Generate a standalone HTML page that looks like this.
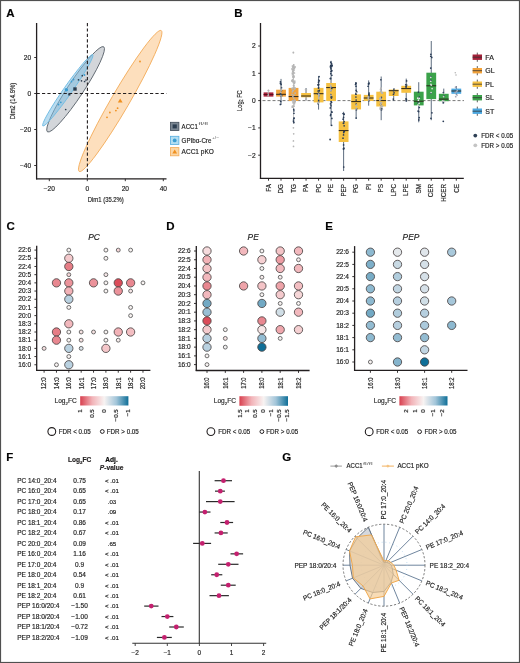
<!DOCTYPE html>
<html><head><meta charset="utf-8"><style>
html,body{margin:0;padding:0;background:#fff;}
svg{display:block;font-family:"Liberation Sans",sans-serif;will-change:transform;}
text{stroke:#2a2a2a;stroke-width:0.18px;}
</style></head><body>
<svg width="520" height="663" viewBox="0 0 520 663">
<rect x="0" y="0" width="520" height="663" fill="#fff"/>
<text x="6.3" y="17.2" font-size="11.5" text-anchor="start" font-weight="bold" fill="#000">A</text>
<ellipse cx="120.2" cy="101" rx="81.5" ry="9" transform="rotate(-59.8 120.2 101)" fill="#fddfbd" stroke="#f3aa55" stroke-width="0.8"/>
<ellipse cx="75.6" cy="89.3" rx="51" ry="7.8" transform="rotate(-56.5 75.6 89.3)" fill="#d3d6da" stroke="#525b64" stroke-width="0.8"/>
<ellipse cx="67.8" cy="90.3" rx="43.5" ry="4.2" transform="rotate(-55 67.8 90.3)" fill="#7fc0e4" fill-opacity="0.55" stroke="#74bde4" stroke-width="0.9"/>
<line x1="87.4" y1="23" x2="87.4" y2="178.8" stroke="#231f20" stroke-width="1.1" stroke-dasharray="3.2,2.2"/>
<line x1="36.6" y1="93.5" x2="166.5" y2="93.5" stroke="#231f20" stroke-width="1.1" stroke-dasharray="3.2,2.2"/>
<line x1="36.6" y1="23" x2="36.6" y2="179.4" stroke="#231f20" stroke-width="1.3"/>
<line x1="36" y1="178.8" x2="166.5" y2="178.8" stroke="#231f20" stroke-width="1.3"/>
<line x1="34.2" y1="57.5" x2="36.6" y2="57.5" stroke="#231f20" stroke-width="0.9"/>
<text x="31.2" y="59.8" font-size="6.6" text-anchor="end" fill="#222">20</text>
<line x1="34.2" y1="93.5" x2="36.6" y2="93.5" stroke="#231f20" stroke-width="0.9"/>
<text x="31.2" y="95.8" font-size="6.6" text-anchor="end" fill="#222">0</text>
<line x1="34.2" y1="129.5" x2="36.6" y2="129.5" stroke="#231f20" stroke-width="0.9"/>
<text x="31.2" y="131.8" font-size="6.6" text-anchor="end" fill="#222">−20</text>
<line x1="34.2" y1="165.5" x2="36.6" y2="165.5" stroke="#231f20" stroke-width="0.9"/>
<text x="31.2" y="167.8" font-size="6.6" text-anchor="end" fill="#222">−40</text>
<line x1="49.3" y1="178.8" x2="49.3" y2="181.2" stroke="#231f20" stroke-width="0.9"/>
<text x="49.3" y="190.8" font-size="6.6" text-anchor="middle" fill="#222">−20</text>
<line x1="87.3" y1="178.8" x2="87.3" y2="181.2" stroke="#231f20" stroke-width="0.9"/>
<text x="87.3" y="190.8" font-size="6.6" text-anchor="middle" fill="#222">0</text>
<line x1="125.3" y1="178.8" x2="125.3" y2="181.2" stroke="#231f20" stroke-width="0.9"/>
<text x="125.3" y="190.8" font-size="6.6" text-anchor="middle" fill="#222">20</text>
<line x1="163.3" y1="178.8" x2="163.3" y2="181.2" stroke="#231f20" stroke-width="0.9"/>
<text x="163.3" y="190.8" font-size="6.6" text-anchor="middle" fill="#222">40</text>
<text x="105.8" y="202.3" font-size="7.4" text-anchor="middle" fill="#222" textLength="36" lengthAdjust="spacingAndGlyphs">Dim1 (35.2%)</text>
<text x="14.6" y="101" font-size="7.4" text-anchor="middle" fill="#222" textLength="36.5" lengthAdjust="spacingAndGlyphs" transform="rotate(-90 14.6 101)">Dim2 (14.9%)</text>
<circle cx="65.7" cy="109.5" r="0.85" fill="#2c3e50" stroke="none" stroke-width="0"/>
<circle cx="82.3" cy="75.7" r="0.85" fill="#2c3e50" stroke="none" stroke-width="0"/>
<circle cx="81.5" cy="80.8" r="0.85" fill="#2c3e50" stroke="none" stroke-width="0"/>
<circle cx="84.6" cy="81.5" r="0.85" fill="#2c3e50" stroke="none" stroke-width="0"/>
<circle cx="86" cy="80" r="0.85" fill="#2c3e50" stroke="none" stroke-width="0"/>
<circle cx="78.5" cy="79.8" r="0.85" fill="#2c3e50" stroke="none" stroke-width="0"/>
<rect x="73.3" y="87.3" width="3.4" height="3.4" fill="#2c3e50" stroke="none" stroke-width="0"/>
<rect x="68.2" y="93.3" width="2.2" height="2.2" fill="#2c3e50" stroke="none" stroke-width="0"/>
<circle cx="66.9" cy="90" r="0.9" fill="#3b9dd2" stroke="none" stroke-width="0"/>
<circle cx="71.5" cy="81.5" r="0.9" fill="#3b9dd2" stroke="none" stroke-width="0"/>
<circle cx="60.8" cy="102.3" r="0.9" fill="#3b9dd2" stroke="none" stroke-width="0"/>
<circle cx="58.5" cy="104.5" r="0.9" fill="#3b9dd2" stroke="none" stroke-width="0"/>
<circle cx="73.5" cy="79.5" r="0.9" fill="#3b9dd2" stroke="none" stroke-width="0"/>
<circle cx="84.5" cy="75" r="0.9" fill="#3b9dd2" stroke="none" stroke-width="0"/>
<circle cx="66.3" cy="89.8" r="1.7" fill="#3b9dd2" stroke="none" stroke-width="0"/>
<circle cx="140" cy="61.5" r="0.9" fill="#f0901f" stroke="none" stroke-width="0"/>
<circle cx="109.9" cy="112.5" r="0.9" fill="#f0901f" stroke="none" stroke-width="0"/>
<circle cx="107" cy="117.3" r="0.9" fill="#f0901f" stroke="none" stroke-width="0"/>
<circle cx="115.9" cy="110.6" r="0.9" fill="#f0901f" stroke="none" stroke-width="0"/>
<circle cx="117.6" cy="108.2" r="0.9" fill="#f0901f" stroke="none" stroke-width="0"/>
<path d="M120.2 98.6 L122.6 102.6 L117.8 102.6 Z" fill="#f0901f"/>
<rect x="170.5" y="122.3" width="8.4" height="8.2" fill="#7b8793" stroke="#3f4b57" stroke-width="0.8"/>
<rect x="172.6" y="124.4" width="4.2" height="4" fill="#2c3e50" stroke="none" stroke-width="0"/>
<rect x="170.5" y="136.3" width="8.4" height="8.2" fill="#b3def2" stroke="#55ade0" stroke-width="0.8"/>
<circle cx="174.7" cy="140.4" r="1.9" fill="#3b9dd2" stroke="none" stroke-width="0"/>
<rect x="170.5" y="147.6" width="8.4" height="8.2" fill="#fcd6a4" stroke="#f3aa55" stroke-width="0.8"/>
<path d="M174.7 149.4 L177.1 153.6 L172.3 153.6 Z" fill="#f0901f"/>
<text x="181.6" y="128.6" font-size="6.8" text-anchor="start" fill="#222" textLength="16.2" lengthAdjust="spacingAndGlyphs">ACC1</text>
<text x="198.4" y="124.6" font-size="4" text-anchor="start" fill="#555" textLength="9.6" lengthAdjust="spacingAndGlyphs" style="stroke:none">f‌l/f‌l</text>
<text x="181.6" y="142.6" font-size="6.8" text-anchor="start" fill="#222" textLength="29.8" lengthAdjust="spacingAndGlyphs">GPIbα-Cre</text>
<text x="212" y="138.8" font-size="4" text-anchor="start" fill="#555" textLength="7" lengthAdjust="spacingAndGlyphs" style="stroke:none">+/−</text>
<text x="181.6" y="153.9" font-size="6.8" text-anchor="start" fill="#222" textLength="32.2" lengthAdjust="spacingAndGlyphs">ACC1 pKO</text>
<text x="234.3" y="17.2" font-size="11.5" text-anchor="start" font-weight="bold" fill="#000">B</text>
<line x1="260.5" y1="23" x2="260.5" y2="178.9" stroke="#231f20" stroke-width="1.3"/>
<line x1="259.9" y1="178.3" x2="463.8" y2="178.3" stroke="#231f20" stroke-width="1.3"/>
<line x1="258.2" y1="46" x2="260.5" y2="46" stroke="#231f20" stroke-width="0.9"/>
<text x="255.6" y="48.3" font-size="6.6" text-anchor="end" fill="#222">2</text>
<line x1="258.2" y1="73.3" x2="260.5" y2="73.3" stroke="#231f20" stroke-width="0.9"/>
<text x="255.6" y="75.6" font-size="6.6" text-anchor="end" fill="#222">1</text>
<line x1="258.2" y1="100.6" x2="260.5" y2="100.6" stroke="#231f20" stroke-width="0.9"/>
<text x="255.6" y="102.9" font-size="6.6" text-anchor="end" fill="#222">0</text>
<line x1="258.2" y1="127.9" x2="260.5" y2="127.9" stroke="#231f20" stroke-width="0.9"/>
<text x="255.6" y="130.2" font-size="6.6" text-anchor="end" fill="#222">−1</text>
<line x1="258.2" y1="155.2" x2="260.5" y2="155.2" stroke="#231f20" stroke-width="0.9"/>
<text x="255.6" y="157.5" font-size="6.6" text-anchor="end" fill="#222">−2</text>
<g transform="translate(241.8 100.6) rotate(-90) scale(0.79 1)"><text x="0" y="0" font-size="7.2" text-anchor="middle" fill="#222">Log<tspan font-size="4.6" dy="1.6">2</tspan><tspan dy="-1.6"> FC</tspan></text></g>
<line x1="268.5" y1="178.3" x2="268.5" y2="180.7" stroke="#231f20" stroke-width="0.9"/>
<text x="270.7" y="184" font-size="6.3" text-anchor="end" fill="#222" transform="rotate(-90 270.7 184)">FA</text>
<line x1="281.02" y1="178.3" x2="281.02" y2="180.7" stroke="#231f20" stroke-width="0.9"/>
<text x="283.22" y="184" font-size="6.3" text-anchor="end" fill="#222" transform="rotate(-90 283.22 184)">DG</text>
<line x1="293.54" y1="178.3" x2="293.54" y2="180.7" stroke="#231f20" stroke-width="0.9"/>
<text x="295.74" y="184" font-size="6.3" text-anchor="end" fill="#222" transform="rotate(-90 295.74 184)">TG</text>
<line x1="306.06" y1="178.3" x2="306.06" y2="180.7" stroke="#231f20" stroke-width="0.9"/>
<text x="308.26" y="184" font-size="6.3" text-anchor="end" fill="#222" transform="rotate(-90 308.26 184)">PA</text>
<line x1="318.58" y1="178.3" x2="318.58" y2="180.7" stroke="#231f20" stroke-width="0.9"/>
<text x="320.78" y="184" font-size="6.3" text-anchor="end" fill="#222" transform="rotate(-90 320.78 184)">PC</text>
<line x1="331.1" y1="178.3" x2="331.1" y2="180.7" stroke="#231f20" stroke-width="0.9"/>
<text x="333.3" y="184" font-size="6.3" text-anchor="end" fill="#222" transform="rotate(-90 333.3 184)">PE</text>
<line x1="343.62" y1="178.3" x2="343.62" y2="180.7" stroke="#231f20" stroke-width="0.9"/>
<text x="345.82" y="184" font-size="6.3" text-anchor="end" fill="#222" transform="rotate(-90 345.82 184)">PEP</text>
<line x1="356.14" y1="178.3" x2="356.14" y2="180.7" stroke="#231f20" stroke-width="0.9"/>
<text x="358.34" y="184" font-size="6.3" text-anchor="end" fill="#222" transform="rotate(-90 358.34 184)">PG</text>
<line x1="368.66" y1="178.3" x2="368.66" y2="180.7" stroke="#231f20" stroke-width="0.9"/>
<text x="370.86" y="184" font-size="6.3" text-anchor="end" fill="#222" transform="rotate(-90 370.86 184)">PI</text>
<line x1="381.18" y1="178.3" x2="381.18" y2="180.7" stroke="#231f20" stroke-width="0.9"/>
<text x="383.38" y="184" font-size="6.3" text-anchor="end" fill="#222" transform="rotate(-90 383.38 184)">PS</text>
<line x1="393.7" y1="178.3" x2="393.7" y2="180.7" stroke="#231f20" stroke-width="0.9"/>
<text x="395.9" y="184" font-size="6.3" text-anchor="end" fill="#222" transform="rotate(-90 395.9 184)">LPC</text>
<line x1="406.22" y1="178.3" x2="406.22" y2="180.7" stroke="#231f20" stroke-width="0.9"/>
<text x="408.42" y="184" font-size="6.3" text-anchor="end" fill="#222" transform="rotate(-90 408.42 184)">LPE</text>
<line x1="418.74" y1="178.3" x2="418.74" y2="180.7" stroke="#231f20" stroke-width="0.9"/>
<text x="420.94" y="184" font-size="6.3" text-anchor="end" fill="#222" transform="rotate(-90 420.94 184)">SM</text>
<line x1="431.26" y1="178.3" x2="431.26" y2="180.7" stroke="#231f20" stroke-width="0.9"/>
<text x="433.46" y="184" font-size="6.3" text-anchor="end" fill="#222" transform="rotate(-90 433.46 184)">CER</text>
<line x1="443.78" y1="178.3" x2="443.78" y2="180.7" stroke="#231f20" stroke-width="0.9"/>
<text x="445.98" y="184" font-size="6.3" text-anchor="end" fill="#222" transform="rotate(-90 445.98 184)">HCER</text>
<line x1="456.3" y1="178.3" x2="456.3" y2="180.7" stroke="#231f20" stroke-width="0.9"/>
<text x="458.5" y="184" font-size="6.3" text-anchor="end" fill="#222" transform="rotate(-90 458.5 184)">CE</text>
<line x1="262.5" y1="100.6" x2="464" y2="100.6" stroke="#555" stroke-width="0.8" stroke-dasharray="3,2"/>
<rect x="263.6" y="92.4" width="9.8" height="4.2" fill="#a52038" stroke="none" stroke-width="0"/>
<line x1="263.6" y1="94.5" x2="273.4" y2="94.5" stroke="#5a0f1c" stroke-width="1"/>
<line x1="281.02" y1="78.9" x2="281.02" y2="105" stroke="#34465e" stroke-width="0.8"/>
<rect x="276.12" y="89.7" width="9.8" height="6.9" fill="#f2a23a" stroke="none" stroke-width="0"/>
<line x1="276.12" y1="94.3" x2="285.92" y2="94.3" stroke="#2a2418" stroke-width="1"/>
<line x1="293.54" y1="64" x2="293.54" y2="124" stroke="#b5b5b5" stroke-width="0.8"/>
<rect x="288.64" y="87.9" width="9.8" height="13.1" fill="#f2a23a" stroke="none" stroke-width="0"/>
<line x1="288.64" y1="96.6" x2="298.44" y2="96.6" stroke="#2a2418" stroke-width="1"/>
<line x1="306.06" y1="88" x2="306.06" y2="100" stroke="#34465e" stroke-width="0.8"/>
<rect x="301.16" y="93" width="9.8" height="4.3" fill="#f6c142" stroke="none" stroke-width="0"/>
<line x1="301.16" y1="96" x2="310.96" y2="96" stroke="#2a2418" stroke-width="1"/>
<line x1="318.58" y1="76.2" x2="318.58" y2="109.6" stroke="#34465e" stroke-width="0.8"/>
<rect x="313.68" y="87.9" width="9.8" height="14.5" fill="#f6c142" stroke="none" stroke-width="0"/>
<line x1="313.68" y1="93.7" x2="323.48" y2="93.7" stroke="#2a2418" stroke-width="1"/>
<line x1="331.1" y1="60.8" x2="331.1" y2="126" stroke="#34465e" stroke-width="0.8"/>
<rect x="326.2" y="83" width="9.8" height="18" fill="#f6c142" stroke="none" stroke-width="0"/>
<line x1="326.2" y1="87.6" x2="336" y2="87.6" stroke="#2a2418" stroke-width="1"/>
<line x1="343.62" y1="111.8" x2="343.62" y2="171" stroke="#34465e" stroke-width="0.8"/>
<rect x="338.72" y="121.4" width="9.8" height="20.6" fill="#f6c142" stroke="none" stroke-width="0"/>
<line x1="338.72" y1="130.6" x2="348.52" y2="130.6" stroke="#2a2418" stroke-width="1"/>
<line x1="356.14" y1="82.8" x2="356.14" y2="119" stroke="#34465e" stroke-width="0.8"/>
<rect x="351.24" y="94.4" width="9.8" height="15" fill="#f6c142" stroke="none" stroke-width="0"/>
<line x1="351.24" y1="101.6" x2="361.04" y2="101.6" stroke="#2a2418" stroke-width="1"/>
<line x1="368.66" y1="80.4" x2="368.66" y2="105.7" stroke="#34465e" stroke-width="0.8"/>
<rect x="363.76" y="94.9" width="9.8" height="6.1" fill="#f6c142" stroke="none" stroke-width="0"/>
<line x1="363.76" y1="98" x2="373.56" y2="98" stroke="#2a2418" stroke-width="1"/>
<line x1="381.18" y1="76.5" x2="381.18" y2="120.2" stroke="#34465e" stroke-width="0.8"/>
<rect x="376.28" y="91.7" width="9.8" height="14.8" fill="#f6c142" stroke="none" stroke-width="0"/>
<line x1="376.28" y1="100.6" x2="386.08" y2="100.6" stroke="#2a2418" stroke-width="1"/>
<line x1="393.7" y1="89" x2="393.7" y2="101" stroke="#34465e" stroke-width="0.8"/>
<rect x="388.8" y="89.6" width="9.8" height="6.4" fill="#f6c142" stroke="none" stroke-width="0"/>
<line x1="388.8" y1="90.7" x2="398.6" y2="90.7" stroke="#2a2418" stroke-width="1"/>
<line x1="406.22" y1="78.6" x2="406.22" y2="101.2" stroke="#34465e" stroke-width="0.8"/>
<rect x="401.32" y="85.8" width="9.8" height="7" fill="#f6c142" stroke="none" stroke-width="0"/>
<line x1="401.32" y1="88.6" x2="411.12" y2="88.6" stroke="#2a2418" stroke-width="1"/>
<line x1="418.74" y1="82.2" x2="418.74" y2="122.3" stroke="#34465e" stroke-width="0.8"/>
<rect x="413.84" y="91.7" width="9.8" height="13.7" fill="#3ba24a" stroke="none" stroke-width="0"/>
<line x1="413.84" y1="101.2" x2="423.64" y2="101.2" stroke="#2a2418" stroke-width="1"/>
<line x1="431.26" y1="41" x2="431.26" y2="120.2" stroke="#34465e" stroke-width="0.8"/>
<rect x="426.36" y="72.7" width="9.8" height="26.4" fill="#3ba24a" stroke="none" stroke-width="0"/>
<line x1="426.36" y1="85.8" x2="436.16" y2="85.8" stroke="#2a2418" stroke-width="1"/>
<line x1="443.78" y1="88.6" x2="443.78" y2="103.3" stroke="#34465e" stroke-width="0.8"/>
<rect x="438.88" y="93.8" width="9.8" height="7.4" fill="#3ba24a" stroke="none" stroke-width="0"/>
<line x1="438.88" y1="99.1" x2="448.68" y2="99.1" stroke="#2a2418" stroke-width="1"/>
<line x1="456.3" y1="86" x2="456.3" y2="95" stroke="#34465e" stroke-width="0.8"/>
<rect x="451.4" y="88.6" width="9.8" height="5.2" fill="#4ba7e0" stroke="none" stroke-width="0"/>
<line x1="451.4" y1="91" x2="461.2" y2="91" stroke="#2a2418" stroke-width="1"/>
<circle cx="268.15" cy="92.91" r="0.85" fill="#b5b5b5" stroke="none" stroke-width="0"/>
<circle cx="268.08" cy="95.86" r="0.85" fill="#b5b5b5" stroke="none" stroke-width="0"/>
<circle cx="268.37" cy="94.82" r="0.85" fill="#b5b5b5" stroke="none" stroke-width="0"/>
<circle cx="268.51" cy="90.52" r="0.85" fill="#b5b5b5" stroke="none" stroke-width="0"/>
<circle cx="268.43" cy="90.34" r="0.85" fill="#b5b5b5" stroke="none" stroke-width="0"/>
<circle cx="268.5" cy="91" r="0.8" fill="#b5b5b5" stroke="none" stroke-width="0"/>
<circle cx="280.43" cy="81.75" r="0.85" fill="#2b3d57" stroke="none" stroke-width="0"/>
<circle cx="281.49" cy="90.61" r="0.85" fill="#2b3d57" stroke="none" stroke-width="0"/>
<circle cx="280.62" cy="83.1" r="0.85" fill="#2b3d57" stroke="none" stroke-width="0"/>
<circle cx="281.66" cy="95.69" r="0.85" fill="#2b3d57" stroke="none" stroke-width="0"/>
<circle cx="280.87" cy="94.43" r="0.85" fill="#2b3d57" stroke="none" stroke-width="0"/>
<circle cx="280.37" cy="104.41" r="0.85" fill="#2b3d57" stroke="none" stroke-width="0"/>
<circle cx="280.72" cy="101.46" r="0.85" fill="#2b3d57" stroke="none" stroke-width="0"/>
<circle cx="280.47" cy="83.61" r="0.85" fill="#2b3d57" stroke="none" stroke-width="0"/>
<circle cx="281.47" cy="87.71" r="0.85" fill="#2b3d57" stroke="none" stroke-width="0"/>
<circle cx="281.14" cy="84.52" r="0.85" fill="#2b3d57" stroke="none" stroke-width="0"/>
<circle cx="280.84" cy="95.97" r="0.85" fill="#2b3d57" stroke="none" stroke-width="0"/>
<circle cx="280.39" cy="93.69" r="0.85" fill="#2b3d57" stroke="none" stroke-width="0"/>
<circle cx="280.73" cy="86.83" r="0.85" fill="#b5b5b5" stroke="none" stroke-width="0"/>
<circle cx="280.95" cy="95.53" r="0.85" fill="#b5b5b5" stroke="none" stroke-width="0"/>
<circle cx="281.1" cy="90.4" r="0.85" fill="#b5b5b5" stroke="none" stroke-width="0"/>
<circle cx="280.82" cy="92.34" r="0.85" fill="#b5b5b5" stroke="none" stroke-width="0"/>
<circle cx="281.22" cy="97.12" r="0.85" fill="#b5b5b5" stroke="none" stroke-width="0"/>
<circle cx="281.09" cy="89.42" r="0.85" fill="#b5b5b5" stroke="none" stroke-width="0"/>
<circle cx="294.78" cy="88.06" r="0.85" fill="#b5b5b5" stroke="none" stroke-width="0"/>
<circle cx="292.84" cy="96.64" r="0.85" fill="#b5b5b5" stroke="none" stroke-width="0"/>
<circle cx="292.28" cy="107.17" r="0.85" fill="#b5b5b5" stroke="none" stroke-width="0"/>
<circle cx="294.39" cy="83.56" r="0.85" fill="#b5b5b5" stroke="none" stroke-width="0"/>
<circle cx="293.5" cy="72.38" r="0.85" fill="#b5b5b5" stroke="none" stroke-width="0"/>
<circle cx="294.1" cy="67.65" r="0.85" fill="#b5b5b5" stroke="none" stroke-width="0"/>
<circle cx="293.78" cy="98.11" r="0.85" fill="#b5b5b5" stroke="none" stroke-width="0"/>
<circle cx="292.93" cy="102.77" r="0.85" fill="#b5b5b5" stroke="none" stroke-width="0"/>
<circle cx="293.85" cy="95.2" r="0.85" fill="#b5b5b5" stroke="none" stroke-width="0"/>
<circle cx="293.4" cy="90.36" r="0.85" fill="#b5b5b5" stroke="none" stroke-width="0"/>
<circle cx="295.01" cy="101.28" r="0.85" fill="#b5b5b5" stroke="none" stroke-width="0"/>
<circle cx="294.08" cy="85.91" r="0.85" fill="#b5b5b5" stroke="none" stroke-width="0"/>
<circle cx="294.2" cy="68.55" r="0.85" fill="#b5b5b5" stroke="none" stroke-width="0"/>
<circle cx="295.17" cy="93.18" r="0.85" fill="#b5b5b5" stroke="none" stroke-width="0"/>
<circle cx="292.83" cy="100.52" r="0.85" fill="#b5b5b5" stroke="none" stroke-width="0"/>
<circle cx="294.1" cy="82.2" r="0.85" fill="#b5b5b5" stroke="none" stroke-width="0"/>
<circle cx="293.41" cy="66.95" r="0.85" fill="#b5b5b5" stroke="none" stroke-width="0"/>
<circle cx="292.28" cy="73.06" r="0.85" fill="#b5b5b5" stroke="none" stroke-width="0"/>
<circle cx="294.43" cy="68.48" r="0.85" fill="#b5b5b5" stroke="none" stroke-width="0"/>
<circle cx="292.71" cy="71.43" r="0.85" fill="#b5b5b5" stroke="none" stroke-width="0"/>
<circle cx="294.77" cy="82.42" r="0.85" fill="#b5b5b5" stroke="none" stroke-width="0"/>
<circle cx="293.37" cy="69.38" r="0.85" fill="#b5b5b5" stroke="none" stroke-width="0"/>
<circle cx="294.81" cy="89.08" r="0.85" fill="#b5b5b5" stroke="none" stroke-width="0"/>
<circle cx="294.74" cy="100.41" r="0.85" fill="#b5b5b5" stroke="none" stroke-width="0"/>
<circle cx="293.26" cy="77.69" r="0.85" fill="#b5b5b5" stroke="none" stroke-width="0"/>
<circle cx="294.81" cy="81.07" r="0.85" fill="#b5b5b5" stroke="none" stroke-width="0"/>
<circle cx="292.39" cy="106.22" r="0.85" fill="#b5b5b5" stroke="none" stroke-width="0"/>
<circle cx="292.66" cy="73.4" r="0.85" fill="#b5b5b5" stroke="none" stroke-width="0"/>
<circle cx="293.49" cy="75.8" r="0.85" fill="#b5b5b5" stroke="none" stroke-width="0"/>
<circle cx="292.76" cy="90.74" r="0.85" fill="#b5b5b5" stroke="none" stroke-width="0"/>
<circle cx="293.27" cy="66.17" r="0.85" fill="#b5b5b5" stroke="none" stroke-width="0"/>
<circle cx="293.76" cy="81.51" r="0.85" fill="#b5b5b5" stroke="none" stroke-width="0"/>
<circle cx="294.17" cy="106.03" r="0.85" fill="#b5b5b5" stroke="none" stroke-width="0"/>
<circle cx="293.93" cy="87.65" r="0.85" fill="#b5b5b5" stroke="none" stroke-width="0"/>
<circle cx="292.07" cy="94.4" r="0.85" fill="#b5b5b5" stroke="none" stroke-width="0"/>
<circle cx="294.46" cy="103.78" r="0.85" fill="#b5b5b5" stroke="none" stroke-width="0"/>
<circle cx="294.52" cy="102.73" r="0.85" fill="#b5b5b5" stroke="none" stroke-width="0"/>
<circle cx="293.21" cy="82.48" r="0.85" fill="#b5b5b5" stroke="none" stroke-width="0"/>
<circle cx="293.98" cy="70.35" r="0.85" fill="#b5b5b5" stroke="none" stroke-width="0"/>
<circle cx="292.11" cy="68.61" r="0.85" fill="#b5b5b5" stroke="none" stroke-width="0"/>
<circle cx="292.43" cy="74.77" r="0.85" fill="#b5b5b5" stroke="none" stroke-width="0"/>
<circle cx="292.06" cy="80.28" r="0.85" fill="#b5b5b5" stroke="none" stroke-width="0"/>
<circle cx="292.39" cy="66.01" r="0.85" fill="#b5b5b5" stroke="none" stroke-width="0"/>
<circle cx="293.09" cy="70.26" r="0.85" fill="#b5b5b5" stroke="none" stroke-width="0"/>
<circle cx="294.78" cy="67.07" r="0.85" fill="#b5b5b5" stroke="none" stroke-width="0"/>
<circle cx="292.38" cy="91.79" r="0.85" fill="#b5b5b5" stroke="none" stroke-width="0"/>
<circle cx="293.04" cy="76.59" r="0.85" fill="#b5b5b5" stroke="none" stroke-width="0"/>
<circle cx="292.3" cy="81.29" r="0.85" fill="#b5b5b5" stroke="none" stroke-width="0"/>
<circle cx="295.17" cy="101.66" r="0.85" fill="#b5b5b5" stroke="none" stroke-width="0"/>
<circle cx="293.49" cy="85.57" r="0.85" fill="#b5b5b5" stroke="none" stroke-width="0"/>
<circle cx="292.23" cy="69.61" r="0.85" fill="#b5b5b5" stroke="none" stroke-width="0"/>
<circle cx="292.76" cy="80.39" r="0.85" fill="#b5b5b5" stroke="none" stroke-width="0"/>
<circle cx="292.42" cy="100.81" r="0.85" fill="#b5b5b5" stroke="none" stroke-width="0"/>
<circle cx="295.03" cy="66.97" r="0.85" fill="#b5b5b5" stroke="none" stroke-width="0"/>
<circle cx="292.37" cy="88.19" r="0.85" fill="#b5b5b5" stroke="none" stroke-width="0"/>
<circle cx="291.98" cy="88.81" r="0.85" fill="#b5b5b5" stroke="none" stroke-width="0"/>
<circle cx="295.12" cy="88.18" r="0.85" fill="#b5b5b5" stroke="none" stroke-width="0"/>
<circle cx="294.19" cy="102.26" r="0.85" fill="#b5b5b5" stroke="none" stroke-width="0"/>
<circle cx="293.1" cy="76.97" r="0.85" fill="#b5b5b5" stroke="none" stroke-width="0"/>
<circle cx="294.44" cy="73.02" r="0.85" fill="#b5b5b5" stroke="none" stroke-width="0"/>
<circle cx="294.46" cy="88.37" r="0.85" fill="#b5b5b5" stroke="none" stroke-width="0"/>
<circle cx="292.63" cy="79.85" r="0.85" fill="#b5b5b5" stroke="none" stroke-width="0"/>
<circle cx="295.14" cy="100.08" r="0.85" fill="#b5b5b5" stroke="none" stroke-width="0"/>
<circle cx="294.55" cy="101.81" r="0.85" fill="#b5b5b5" stroke="none" stroke-width="0"/>
<circle cx="294.33" cy="100.37" r="0.85" fill="#b5b5b5" stroke="none" stroke-width="0"/>
<circle cx="293.6" cy="75.52" r="0.85" fill="#b5b5b5" stroke="none" stroke-width="0"/>
<circle cx="291.99" cy="80.93" r="0.85" fill="#b5b5b5" stroke="none" stroke-width="0"/>
<circle cx="292.81" cy="67.17" r="0.85" fill="#b5b5b5" stroke="none" stroke-width="0"/>
<circle cx="294.18" cy="76.89" r="0.85" fill="#b5b5b5" stroke="none" stroke-width="0"/>
<circle cx="293.37" cy="106.17" r="0.85" fill="#b5b5b5" stroke="none" stroke-width="0"/>
<circle cx="293.81" cy="64.93" r="0.85" fill="#b5b5b5" stroke="none" stroke-width="0"/>
<circle cx="293.47" cy="65.24" r="0.85" fill="#b5b5b5" stroke="none" stroke-width="0"/>
<circle cx="293.39" cy="52.75" r="0.85" fill="#b5b5b5" stroke="none" stroke-width="0"/>
<circle cx="293.38" cy="52.34" r="0.85" fill="#b5b5b5" stroke="none" stroke-width="0"/>
<circle cx="294.07" cy="117.99" r="0.85" fill="#2b3d57" stroke="none" stroke-width="0"/>
<circle cx="293.51" cy="121.45" r="0.85" fill="#2b3d57" stroke="none" stroke-width="0"/>
<circle cx="293.94" cy="118.45" r="0.85" fill="#2b3d57" stroke="none" stroke-width="0"/>
<circle cx="293.75" cy="109.36" r="0.85" fill="#2b3d57" stroke="none" stroke-width="0"/>
<circle cx="293.91" cy="122.56" r="0.85" fill="#2b3d57" stroke="none" stroke-width="0"/>
<circle cx="293.51" cy="120" r="0.85" fill="#2b3d57" stroke="none" stroke-width="0"/>
<circle cx="293.92" cy="110.86" r="0.85" fill="#2b3d57" stroke="none" stroke-width="0"/>
<circle cx="293.94" cy="113.32" r="0.85" fill="#2b3d57" stroke="none" stroke-width="0"/>
<circle cx="293.51" cy="146.38" r="0.85" fill="#b5b5b5" stroke="none" stroke-width="0"/>
<circle cx="293.69" cy="133.83" r="0.85" fill="#b5b5b5" stroke="none" stroke-width="0"/>
<circle cx="293.43" cy="140.95" r="0.85" fill="#b5b5b5" stroke="none" stroke-width="0"/>
<circle cx="293.42" cy="127.79" r="0.85" fill="#b5b5b5" stroke="none" stroke-width="0"/>
<circle cx="306.36" cy="98.86" r="0.85" fill="#b5b5b5" stroke="none" stroke-width="0"/>
<circle cx="306.38" cy="89.75" r="0.85" fill="#b5b5b5" stroke="none" stroke-width="0"/>
<circle cx="306.22" cy="99.76" r="0.85" fill="#b5b5b5" stroke="none" stroke-width="0"/>
<circle cx="306.11" cy="92.2" r="0.85" fill="#b5b5b5" stroke="none" stroke-width="0"/>
<circle cx="305.58" cy="89.57" r="0.85" fill="#b5b5b5" stroke="none" stroke-width="0"/>
<circle cx="306.21" cy="99.65" r="0.85" fill="#b5b5b5" stroke="none" stroke-width="0"/>
<circle cx="319.3" cy="93.88" r="0.85" fill="#2b3d57" stroke="none" stroke-width="0"/>
<circle cx="319.19" cy="90.82" r="0.85" fill="#2b3d57" stroke="none" stroke-width="0"/>
<circle cx="318.1" cy="103.76" r="0.85" fill="#2b3d57" stroke="none" stroke-width="0"/>
<circle cx="318.24" cy="84.81" r="0.85" fill="#2b3d57" stroke="none" stroke-width="0"/>
<circle cx="318.72" cy="84.44" r="0.85" fill="#2b3d57" stroke="none" stroke-width="0"/>
<circle cx="318.45" cy="85.06" r="0.85" fill="#2b3d57" stroke="none" stroke-width="0"/>
<circle cx="319.26" cy="80.83" r="0.85" fill="#2b3d57" stroke="none" stroke-width="0"/>
<circle cx="318.51" cy="88.17" r="0.85" fill="#2b3d57" stroke="none" stroke-width="0"/>
<circle cx="319.25" cy="95.75" r="0.85" fill="#2b3d57" stroke="none" stroke-width="0"/>
<circle cx="319.27" cy="90.38" r="0.85" fill="#2b3d57" stroke="none" stroke-width="0"/>
<circle cx="318.63" cy="93.05" r="0.85" fill="#2b3d57" stroke="none" stroke-width="0"/>
<circle cx="317.79" cy="93.78" r="0.85" fill="#2b3d57" stroke="none" stroke-width="0"/>
<circle cx="318.06" cy="91.02" r="0.85" fill="#2b3d57" stroke="none" stroke-width="0"/>
<circle cx="319.07" cy="76.63" r="0.85" fill="#2b3d57" stroke="none" stroke-width="0"/>
<circle cx="318.54" cy="82.19" r="0.85" fill="#2b3d57" stroke="none" stroke-width="0"/>
<circle cx="318.67" cy="100.43" r="0.85" fill="#2b3d57" stroke="none" stroke-width="0"/>
<circle cx="318.61" cy="87.26" r="0.85" fill="#2b3d57" stroke="none" stroke-width="0"/>
<circle cx="319.05" cy="94.83" r="0.85" fill="#2b3d57" stroke="none" stroke-width="0"/>
<circle cx="318.68" cy="80" r="0.85" fill="#2b3d57" stroke="none" stroke-width="0"/>
<circle cx="318.21" cy="84.7" r="0.85" fill="#2b3d57" stroke="none" stroke-width="0"/>
<circle cx="318.59" cy="101.98" r="0.85" fill="#2b3d57" stroke="none" stroke-width="0"/>
<circle cx="319.01" cy="95.04" r="0.85" fill="#2b3d57" stroke="none" stroke-width="0"/>
<circle cx="318.52" cy="102.42" r="0.85" fill="#b5b5b5" stroke="none" stroke-width="0"/>
<circle cx="318.59" cy="97.03" r="0.85" fill="#b5b5b5" stroke="none" stroke-width="0"/>
<circle cx="318.77" cy="95.22" r="0.85" fill="#b5b5b5" stroke="none" stroke-width="0"/>
<circle cx="318.61" cy="94.14" r="0.85" fill="#b5b5b5" stroke="none" stroke-width="0"/>
<circle cx="319.02" cy="94.6" r="0.85" fill="#b5b5b5" stroke="none" stroke-width="0"/>
<circle cx="318.95" cy="98.59" r="0.85" fill="#b5b5b5" stroke="none" stroke-width="0"/>
<circle cx="318.34" cy="102.96" r="0.85" fill="#b5b5b5" stroke="none" stroke-width="0"/>
<circle cx="319.02" cy="96.07" r="0.85" fill="#b5b5b5" stroke="none" stroke-width="0"/>
<circle cx="330.5" cy="115.6" r="0.85" fill="#2b3d57" stroke="none" stroke-width="0"/>
<circle cx="331" cy="68.91" r="0.85" fill="#2b3d57" stroke="none" stroke-width="0"/>
<circle cx="330.67" cy="65.72" r="0.85" fill="#2b3d57" stroke="none" stroke-width="0"/>
<circle cx="331.38" cy="65.75" r="0.85" fill="#2b3d57" stroke="none" stroke-width="0"/>
<circle cx="331.76" cy="111.96" r="0.85" fill="#2b3d57" stroke="none" stroke-width="0"/>
<circle cx="331.46" cy="71.04" r="0.85" fill="#2b3d57" stroke="none" stroke-width="0"/>
<circle cx="330.51" cy="103.92" r="0.85" fill="#2b3d57" stroke="none" stroke-width="0"/>
<circle cx="331.87" cy="118.38" r="0.85" fill="#2b3d57" stroke="none" stroke-width="0"/>
<circle cx="331.85" cy="75.27" r="0.85" fill="#2b3d57" stroke="none" stroke-width="0"/>
<circle cx="331.08" cy="86.89" r="0.85" fill="#2b3d57" stroke="none" stroke-width="0"/>
<circle cx="331.65" cy="125.34" r="0.85" fill="#2b3d57" stroke="none" stroke-width="0"/>
<circle cx="330.99" cy="71.5" r="0.85" fill="#2b3d57" stroke="none" stroke-width="0"/>
<circle cx="330.83" cy="94.51" r="0.85" fill="#2b3d57" stroke="none" stroke-width="0"/>
<circle cx="330.8" cy="73.72" r="0.85" fill="#2b3d57" stroke="none" stroke-width="0"/>
<circle cx="330.31" cy="107.94" r="0.85" fill="#2b3d57" stroke="none" stroke-width="0"/>
<circle cx="331" cy="97.01" r="0.85" fill="#2b3d57" stroke="none" stroke-width="0"/>
<circle cx="330.82" cy="62.18" r="0.85" fill="#2b3d57" stroke="none" stroke-width="0"/>
<circle cx="331.12" cy="101.56" r="0.85" fill="#2b3d57" stroke="none" stroke-width="0"/>
<circle cx="331.9" cy="65.18" r="0.85" fill="#2b3d57" stroke="none" stroke-width="0"/>
<circle cx="331.88" cy="112.24" r="0.85" fill="#2b3d57" stroke="none" stroke-width="0"/>
<circle cx="330.71" cy="67.81" r="0.85" fill="#2b3d57" stroke="none" stroke-width="0"/>
<circle cx="331.56" cy="63.57" r="0.85" fill="#2b3d57" stroke="none" stroke-width="0"/>
<circle cx="330.49" cy="78.58" r="0.85" fill="#2b3d57" stroke="none" stroke-width="0"/>
<circle cx="331.78" cy="88.45" r="0.85" fill="#2b3d57" stroke="none" stroke-width="0"/>
<circle cx="330.7" cy="114.23" r="0.85" fill="#2b3d57" stroke="none" stroke-width="0"/>
<circle cx="331.79" cy="70.71" r="0.85" fill="#2b3d57" stroke="none" stroke-width="0"/>
<circle cx="331.43" cy="98.09" r="0.85" fill="#2b3d57" stroke="none" stroke-width="0"/>
<circle cx="330.37" cy="66.82" r="0.85" fill="#2b3d57" stroke="none" stroke-width="0"/>
<circle cx="330.98" cy="105.73" r="0.85" fill="#2b3d57" stroke="none" stroke-width="0"/>
<circle cx="331.82" cy="65.71" r="0.85" fill="#2b3d57" stroke="none" stroke-width="0"/>
<circle cx="331.6" cy="102.24" r="0.85" fill="#2b3d57" stroke="none" stroke-width="0"/>
<circle cx="331.69" cy="66.44" r="0.85" fill="#2b3d57" stroke="none" stroke-width="0"/>
<circle cx="331.7" cy="65.33" r="0.85" fill="#2b3d57" stroke="none" stroke-width="0"/>
<circle cx="330.83" cy="90.5" r="0.85" fill="#2b3d57" stroke="none" stroke-width="0"/>
<circle cx="331.8" cy="96.95" r="0.85" fill="#2b3d57" stroke="none" stroke-width="0"/>
<circle cx="330.49" cy="78.41" r="0.85" fill="#2b3d57" stroke="none" stroke-width="0"/>
<circle cx="330.84" cy="90.54" r="0.85" fill="#b5b5b5" stroke="none" stroke-width="0"/>
<circle cx="330.76" cy="82.19" r="0.85" fill="#b5b5b5" stroke="none" stroke-width="0"/>
<circle cx="330.8" cy="81.01" r="0.85" fill="#b5b5b5" stroke="none" stroke-width="0"/>
<circle cx="330.91" cy="86.24" r="0.85" fill="#b5b5b5" stroke="none" stroke-width="0"/>
<circle cx="330.89" cy="95.19" r="0.85" fill="#b5b5b5" stroke="none" stroke-width="0"/>
<circle cx="330.78" cy="90" r="0.85" fill="#b5b5b5" stroke="none" stroke-width="0"/>
<circle cx="330.62" cy="86.94" r="0.85" fill="#b5b5b5" stroke="none" stroke-width="0"/>
<circle cx="330.62" cy="85.01" r="0.85" fill="#b5b5b5" stroke="none" stroke-width="0"/>
<circle cx="330.1" cy="139.5" r="0.9" fill="#2b3d57" stroke="none" stroke-width="0"/>
<circle cx="343.7" cy="132.53" r="0.85" fill="#2b3d57" stroke="none" stroke-width="0"/>
<circle cx="343.58" cy="117.3" r="0.85" fill="#2b3d57" stroke="none" stroke-width="0"/>
<circle cx="343.01" cy="138.17" r="0.85" fill="#2b3d57" stroke="none" stroke-width="0"/>
<circle cx="343.52" cy="134.93" r="0.85" fill="#2b3d57" stroke="none" stroke-width="0"/>
<circle cx="344.14" cy="125.86" r="0.85" fill="#2b3d57" stroke="none" stroke-width="0"/>
<circle cx="343.63" cy="123.01" r="0.85" fill="#2b3d57" stroke="none" stroke-width="0"/>
<circle cx="344.36" cy="131.26" r="0.85" fill="#2b3d57" stroke="none" stroke-width="0"/>
<circle cx="344.13" cy="121.6" r="0.85" fill="#2b3d57" stroke="none" stroke-width="0"/>
<circle cx="343.83" cy="131.79" r="0.85" fill="#2b3d57" stroke="none" stroke-width="0"/>
<circle cx="343.39" cy="123.33" r="0.85" fill="#2b3d57" stroke="none" stroke-width="0"/>
<circle cx="343.05" cy="113.52" r="0.85" fill="#2b3d57" stroke="none" stroke-width="0"/>
<circle cx="343.99" cy="113.98" r="0.85" fill="#2b3d57" stroke="none" stroke-width="0"/>
<circle cx="343.1" cy="119.16" r="0.85" fill="#2b3d57" stroke="none" stroke-width="0"/>
<circle cx="344.15" cy="114.37" r="0.85" fill="#2b3d57" stroke="none" stroke-width="0"/>
<circle cx="343.73" cy="166.99" r="0.85" fill="#2b3d57" stroke="none" stroke-width="0"/>
<circle cx="343.45" cy="148.74" r="0.85" fill="#2b3d57" stroke="none" stroke-width="0"/>
<circle cx="343.59" cy="149.08" r="0.85" fill="#2b3d57" stroke="none" stroke-width="0"/>
<circle cx="343.58" cy="144.88" r="0.85" fill="#2b3d57" stroke="none" stroke-width="0"/>
<circle cx="343.92" cy="148.16" r="0.85" fill="#2b3d57" stroke="none" stroke-width="0"/>
<circle cx="356.2" cy="118.01" r="0.85" fill="#2b3d57" stroke="none" stroke-width="0"/>
<circle cx="356.75" cy="91.8" r="0.85" fill="#2b3d57" stroke="none" stroke-width="0"/>
<circle cx="355.95" cy="94.14" r="0.85" fill="#2b3d57" stroke="none" stroke-width="0"/>
<circle cx="355.98" cy="83.04" r="0.85" fill="#2b3d57" stroke="none" stroke-width="0"/>
<circle cx="356.14" cy="100.09" r="0.85" fill="#2b3d57" stroke="none" stroke-width="0"/>
<circle cx="356.15" cy="90.24" r="0.85" fill="#2b3d57" stroke="none" stroke-width="0"/>
<circle cx="355.83" cy="83.18" r="0.85" fill="#2b3d57" stroke="none" stroke-width="0"/>
<circle cx="356.01" cy="86.23" r="0.85" fill="#2b3d57" stroke="none" stroke-width="0"/>
<circle cx="355.51" cy="84.5" r="0.85" fill="#2b3d57" stroke="none" stroke-width="0"/>
<circle cx="355.79" cy="93.95" r="0.85" fill="#2b3d57" stroke="none" stroke-width="0"/>
<circle cx="356.18" cy="104.08" r="0.85" fill="#2b3d57" stroke="none" stroke-width="0"/>
<circle cx="356.35" cy="110.02" r="0.85" fill="#2b3d57" stroke="none" stroke-width="0"/>
<circle cx="356.64" cy="108.78" r="0.85" fill="#2b3d57" stroke="none" stroke-width="0"/>
<circle cx="355.91" cy="97.02" r="0.85" fill="#2b3d57" stroke="none" stroke-width="0"/>
<circle cx="355.79" cy="109.73" r="0.85" fill="#b5b5b5" stroke="none" stroke-width="0"/>
<circle cx="356.28" cy="105.03" r="0.85" fill="#b5b5b5" stroke="none" stroke-width="0"/>
<circle cx="356.47" cy="92.79" r="0.85" fill="#b5b5b5" stroke="none" stroke-width="0"/>
<circle cx="356.27" cy="108.05" r="0.85" fill="#b5b5b5" stroke="none" stroke-width="0"/>
<circle cx="356.45" cy="105.21" r="0.85" fill="#b5b5b5" stroke="none" stroke-width="0"/>
<circle cx="368.69" cy="83.98" r="0.85" fill="#2b3d57" stroke="none" stroke-width="0"/>
<circle cx="369.1" cy="93.11" r="0.85" fill="#2b3d57" stroke="none" stroke-width="0"/>
<circle cx="369.09" cy="100.62" r="0.85" fill="#2b3d57" stroke="none" stroke-width="0"/>
<circle cx="369.18" cy="95.1" r="0.85" fill="#2b3d57" stroke="none" stroke-width="0"/>
<circle cx="368.92" cy="97.57" r="0.85" fill="#2b3d57" stroke="none" stroke-width="0"/>
<circle cx="368.04" cy="86.25" r="0.85" fill="#2b3d57" stroke="none" stroke-width="0"/>
<circle cx="368.48" cy="83.83" r="0.85" fill="#2b3d57" stroke="none" stroke-width="0"/>
<circle cx="369.1" cy="83.12" r="0.85" fill="#2b3d57" stroke="none" stroke-width="0"/>
<circle cx="368.83" cy="94.46" r="0.85" fill="#2b3d57" stroke="none" stroke-width="0"/>
<circle cx="368.9" cy="96.16" r="0.85" fill="#2b3d57" stroke="none" stroke-width="0"/>
<circle cx="368.17" cy="96.89" r="0.85" fill="#b5b5b5" stroke="none" stroke-width="0"/>
<circle cx="368.91" cy="99.98" r="0.85" fill="#b5b5b5" stroke="none" stroke-width="0"/>
<circle cx="368.69" cy="97.03" r="0.85" fill="#b5b5b5" stroke="none" stroke-width="0"/>
<circle cx="368.23" cy="98.59" r="0.85" fill="#b5b5b5" stroke="none" stroke-width="0"/>
<circle cx="380.85" cy="108.55" r="0.85" fill="#2b3d57" stroke="none" stroke-width="0"/>
<circle cx="380.87" cy="79.74" r="0.85" fill="#2b3d57" stroke="none" stroke-width="0"/>
<circle cx="380.79" cy="108.23" r="0.85" fill="#2b3d57" stroke="none" stroke-width="0"/>
<circle cx="381.81" cy="108.68" r="0.85" fill="#2b3d57" stroke="none" stroke-width="0"/>
<circle cx="381.02" cy="97.99" r="0.85" fill="#2b3d57" stroke="none" stroke-width="0"/>
<circle cx="381.42" cy="97.34" r="0.85" fill="#2b3d57" stroke="none" stroke-width="0"/>
<circle cx="381.33" cy="109.86" r="0.85" fill="#2b3d57" stroke="none" stroke-width="0"/>
<circle cx="380.62" cy="104.46" r="0.85" fill="#2b3d57" stroke="none" stroke-width="0"/>
<circle cx="380.5" cy="91.24" r="0.85" fill="#b5b5b5" stroke="none" stroke-width="0"/>
<circle cx="380.64" cy="104.35" r="0.85" fill="#b5b5b5" stroke="none" stroke-width="0"/>
<circle cx="379.84" cy="100.49" r="0.85" fill="#b5b5b5" stroke="none" stroke-width="0"/>
<circle cx="380.54" cy="89.33" r="0.85" fill="#b5b5b5" stroke="none" stroke-width="0"/>
<circle cx="381.71" cy="102.78" r="0.85" fill="#b5b5b5" stroke="none" stroke-width="0"/>
<circle cx="380.6" cy="102.87" r="0.85" fill="#b5b5b5" stroke="none" stroke-width="0"/>
<circle cx="381.08" cy="99.36" r="0.85" fill="#b5b5b5" stroke="none" stroke-width="0"/>
<circle cx="380.13" cy="98.26" r="0.85" fill="#b5b5b5" stroke="none" stroke-width="0"/>
<circle cx="380.35" cy="107.66" r="0.85" fill="#b5b5b5" stroke="none" stroke-width="0"/>
<circle cx="382.38" cy="109.52" r="0.85" fill="#b5b5b5" stroke="none" stroke-width="0"/>
<circle cx="381.07" cy="88.39" r="0.85" fill="#b5b5b5" stroke="none" stroke-width="0"/>
<circle cx="382.47" cy="106.04" r="0.85" fill="#b5b5b5" stroke="none" stroke-width="0"/>
<circle cx="380.54" cy="97.89" r="0.85" fill="#b5b5b5" stroke="none" stroke-width="0"/>
<circle cx="382.41" cy="92.62" r="0.85" fill="#b5b5b5" stroke="none" stroke-width="0"/>
<circle cx="381.4" cy="92.64" r="0.85" fill="#b5b5b5" stroke="none" stroke-width="0"/>
<circle cx="381.25" cy="91.12" r="0.85" fill="#b5b5b5" stroke="none" stroke-width="0"/>
<circle cx="380.17" cy="108.96" r="0.85" fill="#b5b5b5" stroke="none" stroke-width="0"/>
<circle cx="381.2" cy="106.04" r="0.85" fill="#b5b5b5" stroke="none" stroke-width="0"/>
<circle cx="381.74" cy="107.51" r="0.85" fill="#b5b5b5" stroke="none" stroke-width="0"/>
<circle cx="382.27" cy="93.09" r="0.85" fill="#b5b5b5" stroke="none" stroke-width="0"/>
<circle cx="379.87" cy="98.7" r="0.85" fill="#b5b5b5" stroke="none" stroke-width="0"/>
<circle cx="381.16" cy="88.08" r="0.85" fill="#b5b5b5" stroke="none" stroke-width="0"/>
<circle cx="393.48" cy="94.41" r="0.85" fill="#2b3d57" stroke="none" stroke-width="0"/>
<circle cx="393.53" cy="90.69" r="0.85" fill="#2b3d57" stroke="none" stroke-width="0"/>
<circle cx="394.07" cy="92.79" r="0.85" fill="#2b3d57" stroke="none" stroke-width="0"/>
<circle cx="393.98" cy="89.02" r="0.85" fill="#2b3d57" stroke="none" stroke-width="0"/>
<circle cx="393.28" cy="99.07" r="0.85" fill="#2b3d57" stroke="none" stroke-width="0"/>
<circle cx="406.45" cy="99.35" r="0.85" fill="#2b3d57" stroke="none" stroke-width="0"/>
<circle cx="405.99" cy="98.8" r="0.85" fill="#2b3d57" stroke="none" stroke-width="0"/>
<circle cx="406.1" cy="86.94" r="0.85" fill="#2b3d57" stroke="none" stroke-width="0"/>
<circle cx="406.32" cy="100.97" r="0.85" fill="#2b3d57" stroke="none" stroke-width="0"/>
<circle cx="406.14" cy="86.68" r="0.85" fill="#2b3d57" stroke="none" stroke-width="0"/>
<circle cx="405.72" cy="84.76" r="0.85" fill="#2b3d57" stroke="none" stroke-width="0"/>
<circle cx="406.59" cy="80.88" r="0.85" fill="#2b3d57" stroke="none" stroke-width="0"/>
<circle cx="406.7" cy="85" r="0.85" fill="#2b3d57" stroke="none" stroke-width="0"/>
<circle cx="418.4" cy="92.2" r="0.85" fill="#2b3d57" stroke="none" stroke-width="0"/>
<circle cx="418.3" cy="102.69" r="0.85" fill="#2b3d57" stroke="none" stroke-width="0"/>
<circle cx="419.39" cy="97.17" r="0.85" fill="#2b3d57" stroke="none" stroke-width="0"/>
<circle cx="419.19" cy="117.66" r="0.85" fill="#2b3d57" stroke="none" stroke-width="0"/>
<circle cx="419.33" cy="107.5" r="0.85" fill="#2b3d57" stroke="none" stroke-width="0"/>
<circle cx="418.81" cy="119.92" r="0.85" fill="#2b3d57" stroke="none" stroke-width="0"/>
<circle cx="418.1" cy="111.05" r="0.85" fill="#2b3d57" stroke="none" stroke-width="0"/>
<circle cx="418.67" cy="111.57" r="0.85" fill="#2b3d57" stroke="none" stroke-width="0"/>
<circle cx="419.06" cy="103.28" r="0.85" fill="#e8e8e8" stroke="none" stroke-width="0"/>
<circle cx="417.75" cy="98.15" r="0.85" fill="#e8e8e8" stroke="none" stroke-width="0"/>
<circle cx="417.92" cy="105.19" r="0.85" fill="#e8e8e8" stroke="none" stroke-width="0"/>
<circle cx="418.4" cy="100.19" r="0.85" fill="#e8e8e8" stroke="none" stroke-width="0"/>
<circle cx="419.27" cy="98.28" r="0.85" fill="#e8e8e8" stroke="none" stroke-width="0"/>
<circle cx="430.94" cy="118.32" r="0.85" fill="#2b3d57" stroke="none" stroke-width="0"/>
<circle cx="431" cy="92.95" r="0.85" fill="#2b3d57" stroke="none" stroke-width="0"/>
<circle cx="431.12" cy="85.14" r="0.85" fill="#2b3d57" stroke="none" stroke-width="0"/>
<circle cx="430.81" cy="54.25" r="0.85" fill="#2b3d57" stroke="none" stroke-width="0"/>
<circle cx="431.8" cy="57.46" r="0.85" fill="#2b3d57" stroke="none" stroke-width="0"/>
<circle cx="430.89" cy="80.37" r="0.85" fill="#2b3d57" stroke="none" stroke-width="0"/>
<circle cx="431.92" cy="112.78" r="0.85" fill="#2b3d57" stroke="none" stroke-width="0"/>
<circle cx="430.78" cy="76.64" r="0.85" fill="#2b3d57" stroke="none" stroke-width="0"/>
<circle cx="430.72" cy="56.24" r="0.85" fill="#2b3d57" stroke="none" stroke-width="0"/>
<circle cx="430.72" cy="68.08" r="0.85" fill="#2b3d57" stroke="none" stroke-width="0"/>
<circle cx="430.73" cy="81.26" r="0.85" fill="#d8e8d8" stroke="none" stroke-width="0"/>
<circle cx="432.11" cy="88.53" r="0.85" fill="#d8e8d8" stroke="none" stroke-width="0"/>
<circle cx="431.07" cy="92.49" r="0.85" fill="#d8e8d8" stroke="none" stroke-width="0"/>
<circle cx="431.31" cy="85.11" r="0.85" fill="#d8e8d8" stroke="none" stroke-width="0"/>
<circle cx="430.9" cy="84.29" r="0.85" fill="#d8e8d8" stroke="none" stroke-width="0"/>
<circle cx="430.77" cy="77.37" r="0.85" fill="#d8e8d8" stroke="none" stroke-width="0"/>
<circle cx="443.16" cy="102.82" r="0.85" fill="#2b3d57" stroke="none" stroke-width="0"/>
<circle cx="443.99" cy="96" r="0.85" fill="#2b3d57" stroke="none" stroke-width="0"/>
<circle cx="443.31" cy="101.28" r="0.85" fill="#2b3d57" stroke="none" stroke-width="0"/>
<circle cx="443.36" cy="92.58" r="0.85" fill="#2b3d57" stroke="none" stroke-width="0"/>
<circle cx="443.63" cy="96.6" r="0.85" fill="#cfcfcf" stroke="none" stroke-width="0"/>
<circle cx="444.74" cy="101.59" r="0.85" fill="#cfcfcf" stroke="none" stroke-width="0"/>
<circle cx="442.46" cy="100.86" r="0.85" fill="#cfcfcf" stroke="none" stroke-width="0"/>
<circle cx="444.36" cy="93.29" r="0.85" fill="#cfcfcf" stroke="none" stroke-width="0"/>
<circle cx="443.71" cy="101.06" r="0.85" fill="#cfcfcf" stroke="none" stroke-width="0"/>
<circle cx="443.28" cy="121.3" r="0.9" fill="#2b3d57" stroke="none" stroke-width="0"/>
<circle cx="455.2" cy="92.46" r="0.85" fill="#a8a8b8" stroke="none" stroke-width="0"/>
<circle cx="457.24" cy="90.31" r="0.85" fill="#a8a8b8" stroke="none" stroke-width="0"/>
<circle cx="457.08" cy="95.08" r="0.85" fill="#a8a8b8" stroke="none" stroke-width="0"/>
<circle cx="455.75" cy="96.69" r="0.85" fill="#a8a8b8" stroke="none" stroke-width="0"/>
<circle cx="455.54" cy="87.2" r="0.85" fill="#a8a8b8" stroke="none" stroke-width="0"/>
<circle cx="456.7" cy="91.75" r="0.85" fill="#a8a8b8" stroke="none" stroke-width="0"/>
<circle cx="455.3" cy="72.7" r="0.8" fill="#b5b5b5" stroke="none" stroke-width="0"/>
<circle cx="456" cy="75" r="0.8" fill="#b5b5b5" stroke="none" stroke-width="0"/>
<line x1="477.3" y1="52.6" x2="477.3" y2="61.8" stroke="#333" stroke-width="0.8"/>
<rect x="472.6" y="54.5" width="9.4" height="5.4" fill="#a52038" stroke="none" stroke-width="0"/>
<line x1="472.6" y1="57.2" x2="482" y2="57.2" stroke="#333" stroke-width="0.8"/>
<text x="485.3" y="59.6" font-size="7" text-anchor="start" fill="#222">FA</text>
<line x1="477.3" y1="66.1" x2="477.3" y2="75.3" stroke="#333" stroke-width="0.8"/>
<rect x="472.6" y="68" width="9.4" height="5.4" fill="#f2a23a" stroke="none" stroke-width="0"/>
<line x1="472.6" y1="70.7" x2="482" y2="70.7" stroke="#333" stroke-width="0.8"/>
<text x="485.3" y="73.1" font-size="7" text-anchor="start" fill="#222">GL</text>
<line x1="477.3" y1="79.6" x2="477.3" y2="88.8" stroke="#333" stroke-width="0.8"/>
<rect x="472.6" y="81.5" width="9.4" height="5.4" fill="#f6c142" stroke="none" stroke-width="0"/>
<line x1="472.6" y1="84.2" x2="482" y2="84.2" stroke="#333" stroke-width="0.8"/>
<text x="485.3" y="86.6" font-size="7" text-anchor="start" fill="#222">PL</text>
<line x1="477.3" y1="93.1" x2="477.3" y2="102.3" stroke="#333" stroke-width="0.8"/>
<rect x="472.6" y="95" width="9.4" height="5.4" fill="#3ba24a" stroke="none" stroke-width="0"/>
<line x1="472.6" y1="97.7" x2="482" y2="97.7" stroke="#333" stroke-width="0.8"/>
<text x="485.3" y="100.1" font-size="7" text-anchor="start" fill="#222">SL</text>
<line x1="477.3" y1="106.6" x2="477.3" y2="115.8" stroke="#333" stroke-width="0.8"/>
<rect x="472.6" y="108.5" width="9.4" height="5.4" fill="#4ba7e0" stroke="none" stroke-width="0"/>
<line x1="472.6" y1="111.2" x2="482" y2="111.2" stroke="#333" stroke-width="0.8"/>
<text x="485.3" y="113.6" font-size="7" text-anchor="start" fill="#222">ST</text>
<circle cx="475.3" cy="135.6" r="1.9" fill="#2f4055" stroke="none" stroke-width="0"/>
<circle cx="475.3" cy="145.3" r="1.9" fill="#c4c4c4" stroke="none" stroke-width="0"/>
<text x="481.3" y="137.9" font-size="6.4" text-anchor="start" fill="#222" textLength="32" lengthAdjust="spacingAndGlyphs">FDR &lt; 0.05</text>
<text x="481.3" y="147.6" font-size="6.4" text-anchor="start" fill="#222" textLength="32" lengthAdjust="spacingAndGlyphs">FDR &gt; 0.05</text>
<text x="6.5" y="230.4" font-size="11.5" text-anchor="start" font-weight="bold" fill="#000">C</text>
<text x="94" y="240.3" font-size="8.4" text-anchor="middle" font-style="italic" fill="#222">PC</text>
<line x1="36.7" y1="245.8" x2="36.7" y2="370.9" stroke="#231f20" stroke-width="1.3"/>
<line x1="36.1" y1="370.3" x2="150.4" y2="370.3" stroke="#231f20" stroke-width="1.3"/>
<line x1="34.4" y1="250.1" x2="36.7" y2="250.1" stroke="#231f20" stroke-width="0.9"/>
<text x="31.1" y="252.3" font-size="6.4" text-anchor="end" fill="#222" textLength="12.8" lengthAdjust="spacingAndGlyphs">22:6</text>
<line x1="34.4" y1="258.29" x2="36.7" y2="258.29" stroke="#231f20" stroke-width="0.9"/>
<text x="31.1" y="260.49" font-size="6.4" text-anchor="end" fill="#222" textLength="12.8" lengthAdjust="spacingAndGlyphs">22:5</text>
<line x1="34.4" y1="266.48" x2="36.7" y2="266.48" stroke="#231f20" stroke-width="0.9"/>
<text x="31.1" y="268.68" font-size="6.4" text-anchor="end" fill="#222" textLength="12.8" lengthAdjust="spacingAndGlyphs">22:4</text>
<line x1="34.4" y1="274.67" x2="36.7" y2="274.67" stroke="#231f20" stroke-width="0.9"/>
<text x="31.1" y="276.87" font-size="6.4" text-anchor="end" fill="#222" textLength="12.8" lengthAdjust="spacingAndGlyphs">20:5</text>
<line x1="34.4" y1="282.86" x2="36.7" y2="282.86" stroke="#231f20" stroke-width="0.9"/>
<text x="31.1" y="285.06" font-size="6.4" text-anchor="end" fill="#222" textLength="12.8" lengthAdjust="spacingAndGlyphs">20:4</text>
<line x1="34.4" y1="291.05" x2="36.7" y2="291.05" stroke="#231f20" stroke-width="0.9"/>
<text x="31.1" y="293.25" font-size="6.4" text-anchor="end" fill="#222" textLength="12.8" lengthAdjust="spacingAndGlyphs">20:3</text>
<line x1="34.4" y1="299.24" x2="36.7" y2="299.24" stroke="#231f20" stroke-width="0.9"/>
<text x="31.1" y="301.44" font-size="6.4" text-anchor="end" fill="#222" textLength="12.8" lengthAdjust="spacingAndGlyphs">20:2</text>
<line x1="34.4" y1="307.43" x2="36.7" y2="307.43" stroke="#231f20" stroke-width="0.9"/>
<text x="31.1" y="309.63" font-size="6.4" text-anchor="end" fill="#222" textLength="12.8" lengthAdjust="spacingAndGlyphs">20:1</text>
<line x1="34.4" y1="315.62" x2="36.7" y2="315.62" stroke="#231f20" stroke-width="0.9"/>
<text x="31.1" y="317.82" font-size="6.4" text-anchor="end" fill="#222" textLength="12.8" lengthAdjust="spacingAndGlyphs">20:0</text>
<line x1="34.4" y1="323.81" x2="36.7" y2="323.81" stroke="#231f20" stroke-width="0.9"/>
<text x="31.1" y="326.01" font-size="6.4" text-anchor="end" fill="#222" textLength="12.8" lengthAdjust="spacingAndGlyphs">18:3</text>
<line x1="34.4" y1="332" x2="36.7" y2="332" stroke="#231f20" stroke-width="0.9"/>
<text x="31.1" y="334.2" font-size="6.4" text-anchor="end" fill="#222" textLength="12.8" lengthAdjust="spacingAndGlyphs">18:2</text>
<line x1="34.4" y1="340.19" x2="36.7" y2="340.19" stroke="#231f20" stroke-width="0.9"/>
<text x="31.1" y="342.39" font-size="6.4" text-anchor="end" fill="#222" textLength="12.8" lengthAdjust="spacingAndGlyphs">18:1</text>
<line x1="34.4" y1="348.38" x2="36.7" y2="348.38" stroke="#231f20" stroke-width="0.9"/>
<text x="31.1" y="350.58" font-size="6.4" text-anchor="end" fill="#222" textLength="12.8" lengthAdjust="spacingAndGlyphs">18:0</text>
<line x1="34.4" y1="356.57" x2="36.7" y2="356.57" stroke="#231f20" stroke-width="0.9"/>
<text x="31.1" y="358.77" font-size="6.4" text-anchor="end" fill="#222" textLength="12.8" lengthAdjust="spacingAndGlyphs">16:1</text>
<line x1="34.4" y1="364.76" x2="36.7" y2="364.76" stroke="#231f20" stroke-width="0.9"/>
<text x="31.1" y="366.96" font-size="6.4" text-anchor="end" fill="#222" textLength="12.8" lengthAdjust="spacingAndGlyphs">16:0</text>
<line x1="44.1" y1="370.3" x2="44.1" y2="372.7" stroke="#231f20" stroke-width="0.9"/>
<text x="46.5" y="377.3" font-size="6.4" text-anchor="end" fill="#222" textLength="12" lengthAdjust="spacingAndGlyphs" transform="rotate(-90 46.5 377.3)">12:0</text>
<line x1="56.46" y1="370.3" x2="56.46" y2="372.7" stroke="#231f20" stroke-width="0.9"/>
<text x="58.86" y="377.3" font-size="6.4" text-anchor="end" fill="#222" textLength="12" lengthAdjust="spacingAndGlyphs" transform="rotate(-90 58.86 377.3)">14:0</text>
<line x1="68.82" y1="370.3" x2="68.82" y2="372.7" stroke="#231f20" stroke-width="0.9"/>
<text x="71.22" y="377.3" font-size="6.4" text-anchor="end" fill="#222" textLength="12" lengthAdjust="spacingAndGlyphs" transform="rotate(-90 71.22 377.3)">16:0</text>
<line x1="81.18" y1="370.3" x2="81.18" y2="372.7" stroke="#231f20" stroke-width="0.9"/>
<text x="83.58" y="377.3" font-size="6.4" text-anchor="end" fill="#222" textLength="12" lengthAdjust="spacingAndGlyphs" transform="rotate(-90 83.58 377.3)">16:1</text>
<line x1="93.54" y1="370.3" x2="93.54" y2="372.7" stroke="#231f20" stroke-width="0.9"/>
<text x="95.94" y="377.3" font-size="6.4" text-anchor="end" fill="#222" textLength="12" lengthAdjust="spacingAndGlyphs" transform="rotate(-90 95.94 377.3)">17:0</text>
<line x1="105.9" y1="370.3" x2="105.9" y2="372.7" stroke="#231f20" stroke-width="0.9"/>
<text x="108.3" y="377.3" font-size="6.4" text-anchor="end" fill="#222" textLength="12" lengthAdjust="spacingAndGlyphs" transform="rotate(-90 108.3 377.3)">18:0</text>
<line x1="118.26" y1="370.3" x2="118.26" y2="372.7" stroke="#231f20" stroke-width="0.9"/>
<text x="120.66" y="377.3" font-size="6.4" text-anchor="end" fill="#222" textLength="12" lengthAdjust="spacingAndGlyphs" transform="rotate(-90 120.66 377.3)">18:1</text>
<line x1="130.62" y1="370.3" x2="130.62" y2="372.7" stroke="#231f20" stroke-width="0.9"/>
<text x="133.02" y="377.3" font-size="6.4" text-anchor="end" fill="#222" textLength="12" lengthAdjust="spacingAndGlyphs" transform="rotate(-90 133.02 377.3)">18:2</text>
<line x1="142.98" y1="370.3" x2="142.98" y2="372.7" stroke="#231f20" stroke-width="0.9"/>
<text x="145.38" y="377.3" font-size="6.4" text-anchor="end" fill="#222" textLength="12" lengthAdjust="spacingAndGlyphs" transform="rotate(-90 145.38 377.3)">20:0</text>
<circle cx="68.82" cy="250.1" r="1.95" fill="#f8f3f2" stroke="#555" stroke-width="0.85"/>
<circle cx="105.9" cy="250.1" r="1.95" fill="#f8f3f2" stroke="#555" stroke-width="0.85"/>
<circle cx="118.26" cy="250.1" r="1.95" fill="#f5d6d8" stroke="#555" stroke-width="0.85"/>
<circle cx="130.62" cy="250.1" r="1.95" fill="#f8f3f2" stroke="#555" stroke-width="0.85"/>
<circle cx="68.82" cy="258.29" r="4.15" fill="#f4cacd" stroke="#4a4444" stroke-width="0.85"/>
<circle cx="105.9" cy="258.29" r="1.95" fill="#f8f3f2" stroke="#555" stroke-width="0.85"/>
<circle cx="68.82" cy="266.48" r="4.15" fill="#e67d86" stroke="#4a4444" stroke-width="0.85"/>
<circle cx="68.82" cy="274.67" r="1.95" fill="#f5d6d8" stroke="#555" stroke-width="0.85"/>
<circle cx="105.9" cy="274.67" r="1.95" fill="#f7e7e8" stroke="#555" stroke-width="0.85"/>
<circle cx="56.46" cy="282.86" r="4.15" fill="#e88790" stroke="#4a4444" stroke-width="0.85"/>
<circle cx="68.82" cy="282.86" r="4.15" fill="#eb929a" stroke="#4a4444" stroke-width="0.85"/>
<circle cx="93.54" cy="282.86" r="4.15" fill="#eb929a" stroke="#4a4444" stroke-width="0.85"/>
<circle cx="105.9" cy="282.86" r="1.95" fill="#f8f3f2" stroke="#555" stroke-width="0.85"/>
<circle cx="118.26" cy="282.86" r="4.15" fill="#db4c5a" stroke="#4a4444" stroke-width="0.85"/>
<circle cx="130.62" cy="282.86" r="4.15" fill="#e88790" stroke="#4a4444" stroke-width="0.85"/>
<circle cx="142.98" cy="282.86" r="1.95" fill="#f8f3f2" stroke="#555" stroke-width="0.85"/>
<circle cx="68.82" cy="291.05" r="4.15" fill="#f2b2b7" stroke="#4a4444" stroke-width="0.85"/>
<circle cx="105.9" cy="291.05" r="1.95" fill="#f8f3f2" stroke="#555" stroke-width="0.85"/>
<circle cx="118.26" cy="291.05" r="4.15" fill="#eb929a" stroke="#4a4444" stroke-width="0.85"/>
<circle cx="130.62" cy="291.05" r="1.95" fill="#f7e7e8" stroke="#555" stroke-width="0.85"/>
<circle cx="68.82" cy="299.24" r="4.15" fill="#b9d1e0" stroke="#4a4444" stroke-width="0.85"/>
<circle cx="68.82" cy="307.43" r="1.95" fill="#f8f3f2" stroke="#555" stroke-width="0.85"/>
<circle cx="130.62" cy="307.43" r="1.95" fill="#f8f3f2" stroke="#555" stroke-width="0.85"/>
<circle cx="130.62" cy="315.62" r="1.95" fill="#f8f3f2" stroke="#555" stroke-width="0.85"/>
<circle cx="68.82" cy="323.81" r="4.15" fill="#f2b8bd" stroke="#4a4444" stroke-width="0.85"/>
<circle cx="56.46" cy="332" r="4.15" fill="#e67d86" stroke="#4a4444" stroke-width="0.85"/>
<circle cx="68.82" cy="332" r="1.95" fill="#f8f3f2" stroke="#555" stroke-width="0.85"/>
<circle cx="81.18" cy="332" r="1.95" fill="#f6e2e2" stroke="#555" stroke-width="0.85"/>
<circle cx="93.54" cy="332" r="1.95" fill="#f6e2e2" stroke="#555" stroke-width="0.85"/>
<circle cx="105.9" cy="332" r="1.95" fill="#f8f3f2" stroke="#555" stroke-width="0.85"/>
<circle cx="118.26" cy="332" r="4.15" fill="#f2b2b7" stroke="#4a4444" stroke-width="0.85"/>
<circle cx="130.62" cy="332" r="4.15" fill="#f3bec2" stroke="#4a4444" stroke-width="0.85"/>
<circle cx="56.46" cy="340.19" r="4.15" fill="#e88790" stroke="#4a4444" stroke-width="0.85"/>
<circle cx="68.82" cy="340.19" r="1.95" fill="#f8f3f2" stroke="#555" stroke-width="0.85"/>
<circle cx="81.18" cy="340.19" r="1.95" fill="#f6e2e2" stroke="#555" stroke-width="0.85"/>
<circle cx="105.9" cy="340.19" r="1.95" fill="#f8f3f2" stroke="#555" stroke-width="0.85"/>
<circle cx="118.26" cy="340.19" r="1.95" fill="#f7eded" stroke="#555" stroke-width="0.85"/>
<circle cx="44.1" cy="348.38" r="1.95" fill="#f6dfe0" stroke="#555" stroke-width="0.85"/>
<circle cx="68.82" cy="348.38" r="4.15" fill="#b9d1e0" stroke="#4a4444" stroke-width="0.85"/>
<circle cx="81.18" cy="348.38" r="1.95" fill="#d9e2e9" stroke="#555" stroke-width="0.85"/>
<circle cx="105.9" cy="348.38" r="4.15" fill="#f4c6c9" stroke="#4a4444" stroke-width="0.85"/>
<circle cx="68.82" cy="356.57" r="1.95" fill="#f8f3f2" stroke="#555" stroke-width="0.85"/>
<circle cx="56.46" cy="364.76" r="1.95" fill="#f8f3f2" stroke="#555" stroke-width="0.85"/>
<circle cx="68.82" cy="364.76" r="4.15" fill="#b9d1e0" stroke="#4a4444" stroke-width="0.85"/>
<defs><linearGradient id="gC" x1="0" x2="1" y1="0" y2="0"><stop offset="0" stop-color="#d8404f"/><stop offset="0.25" stop-color="#f2b3b8"/><stop offset="0.5" stop-color="#f8f3f2"/><stop offset="0.75" stop-color="#a2c5d9"/><stop offset="1" stop-color="#0f6f98"/></linearGradient></defs>
<rect x="80.2" y="396.2" width="48.2" height="9.3" fill="url(#gC)" stroke="none" stroke-width="0"/>
<text x="76.8" y="403" font-size="6.6" text-anchor="end" fill="#333">Log<tspan font-size="4.4" dy="1.5">2</tspan><tspan dy="-1.5">FC</tspan></text>
<text x="82.5" y="409.2" font-size="6.2" text-anchor="end" fill="#222" transform="rotate(-90 82.5 409.2)">1</text>
<text x="93.9" y="409.2" font-size="6.2" text-anchor="end" fill="#222" transform="rotate(-90 93.9 409.2)">0.5</text>
<text x="105.8" y="409.2" font-size="6.2" text-anchor="end" fill="#222" transform="rotate(-90 105.8 409.2)">0</text>
<text x="117.8" y="409.2" font-size="6.2" text-anchor="end" fill="#222" transform="rotate(-90 117.8 409.2)">−0.5</text>
<text x="129.8" y="409.2" font-size="6.2" text-anchor="end" fill="#222" transform="rotate(-90 129.8 409.2)">−1</text>
<circle cx="51.8" cy="431.5" r="3.9" fill="none" stroke="#231f20" stroke-width="1.1"/>
<text x="58.7" y="433.8" font-size="6.4" text-anchor="start" fill="#222" textLength="32" lengthAdjust="spacingAndGlyphs">FDR &lt; 0.05</text>
<circle cx="102.3" cy="431.5" r="1.9" fill="none" stroke="#231f20" stroke-width="1"/>
<text x="106.8" y="433.8" font-size="6.4" text-anchor="start" fill="#222" textLength="32" lengthAdjust="spacingAndGlyphs">FDR &gt; 0.05</text>
<text x="166.3" y="230.4" font-size="11.5" text-anchor="start" font-weight="bold" fill="#000">D</text>
<text x="253.2" y="240.3" font-size="8.4" text-anchor="middle" font-style="italic" fill="#222">PE</text>
<line x1="196.3" y1="246.1" x2="196.3" y2="371.1" stroke="#231f20" stroke-width="1.3"/>
<line x1="195.7" y1="370.5" x2="309.6" y2="370.5" stroke="#231f20" stroke-width="1.3"/>
<line x1="194" y1="251" x2="196.3" y2="251" stroke="#231f20" stroke-width="0.9"/>
<text x="190.7" y="253.2" font-size="6.4" text-anchor="end" fill="#222" textLength="12.8" lengthAdjust="spacingAndGlyphs">22:6</text>
<line x1="194" y1="259.74" x2="196.3" y2="259.74" stroke="#231f20" stroke-width="0.9"/>
<text x="190.7" y="261.94" font-size="6.4" text-anchor="end" fill="#222" textLength="12.8" lengthAdjust="spacingAndGlyphs">22:5</text>
<line x1="194" y1="268.48" x2="196.3" y2="268.48" stroke="#231f20" stroke-width="0.9"/>
<text x="190.7" y="270.68" font-size="6.4" text-anchor="end" fill="#222" textLength="12.8" lengthAdjust="spacingAndGlyphs">22:4</text>
<line x1="194" y1="277.22" x2="196.3" y2="277.22" stroke="#231f20" stroke-width="0.9"/>
<text x="190.7" y="279.42" font-size="6.4" text-anchor="end" fill="#222" textLength="12.8" lengthAdjust="spacingAndGlyphs">20:5</text>
<line x1="194" y1="285.96" x2="196.3" y2="285.96" stroke="#231f20" stroke-width="0.9"/>
<text x="190.7" y="288.16" font-size="6.4" text-anchor="end" fill="#222" textLength="12.8" lengthAdjust="spacingAndGlyphs">20:4</text>
<line x1="194" y1="294.7" x2="196.3" y2="294.7" stroke="#231f20" stroke-width="0.9"/>
<text x="190.7" y="296.9" font-size="6.4" text-anchor="end" fill="#222" textLength="12.8" lengthAdjust="spacingAndGlyphs">20:3</text>
<line x1="194" y1="303.44" x2="196.3" y2="303.44" stroke="#231f20" stroke-width="0.9"/>
<text x="190.7" y="305.64" font-size="6.4" text-anchor="end" fill="#222" textLength="12.8" lengthAdjust="spacingAndGlyphs">20:2</text>
<line x1="194" y1="312.18" x2="196.3" y2="312.18" stroke="#231f20" stroke-width="0.9"/>
<text x="190.7" y="314.38" font-size="6.4" text-anchor="end" fill="#222" textLength="12.8" lengthAdjust="spacingAndGlyphs">20:1</text>
<line x1="194" y1="320.92" x2="196.3" y2="320.92" stroke="#231f20" stroke-width="0.9"/>
<text x="190.7" y="323.12" font-size="6.4" text-anchor="end" fill="#222" textLength="12.8" lengthAdjust="spacingAndGlyphs">18:3</text>
<line x1="194" y1="329.66" x2="196.3" y2="329.66" stroke="#231f20" stroke-width="0.9"/>
<text x="190.7" y="331.86" font-size="6.4" text-anchor="end" fill="#222" textLength="12.8" lengthAdjust="spacingAndGlyphs">18:2</text>
<line x1="194" y1="338.4" x2="196.3" y2="338.4" stroke="#231f20" stroke-width="0.9"/>
<text x="190.7" y="340.6" font-size="6.4" text-anchor="end" fill="#222" textLength="12.8" lengthAdjust="spacingAndGlyphs">18:1</text>
<line x1="194" y1="347.14" x2="196.3" y2="347.14" stroke="#231f20" stroke-width="0.9"/>
<text x="190.7" y="349.34" font-size="6.4" text-anchor="end" fill="#222" textLength="12.8" lengthAdjust="spacingAndGlyphs">18:0</text>
<line x1="194" y1="355.88" x2="196.3" y2="355.88" stroke="#231f20" stroke-width="0.9"/>
<text x="190.7" y="358.08" font-size="6.4" text-anchor="end" fill="#222" textLength="12.8" lengthAdjust="spacingAndGlyphs">16:1</text>
<line x1="194" y1="364.62" x2="196.3" y2="364.62" stroke="#231f20" stroke-width="0.9"/>
<text x="190.7" y="366.82" font-size="6.4" text-anchor="end" fill="#222" textLength="12.8" lengthAdjust="spacingAndGlyphs">16:0</text>
<line x1="207" y1="370.5" x2="207" y2="372.9" stroke="#231f20" stroke-width="0.9"/>
<text x="209.4" y="377.5" font-size="6.4" text-anchor="end" fill="#222" textLength="11.2" lengthAdjust="spacingAndGlyphs" transform="rotate(-90 209.4 377.5)">16:0</text>
<line x1="225.3" y1="370.5" x2="225.3" y2="372.9" stroke="#231f20" stroke-width="0.9"/>
<text x="227.7" y="377.5" font-size="6.4" text-anchor="end" fill="#222" textLength="11.2" lengthAdjust="spacingAndGlyphs" transform="rotate(-90 227.7 377.5)">16:1</text>
<line x1="243.6" y1="370.5" x2="243.6" y2="372.9" stroke="#231f20" stroke-width="0.9"/>
<text x="246" y="377.5" font-size="6.4" text-anchor="end" fill="#222" textLength="11.2" lengthAdjust="spacingAndGlyphs" transform="rotate(-90 246 377.5)">17:0</text>
<line x1="261.9" y1="370.5" x2="261.9" y2="372.9" stroke="#231f20" stroke-width="0.9"/>
<text x="264.3" y="377.5" font-size="6.4" text-anchor="end" fill="#222" textLength="11.2" lengthAdjust="spacingAndGlyphs" transform="rotate(-90 264.3 377.5)">18:0</text>
<line x1="280.2" y1="370.5" x2="280.2" y2="372.9" stroke="#231f20" stroke-width="0.9"/>
<text x="282.6" y="377.5" font-size="6.4" text-anchor="end" fill="#222" textLength="11.2" lengthAdjust="spacingAndGlyphs" transform="rotate(-90 282.6 377.5)">18:1</text>
<line x1="298.5" y1="370.5" x2="298.5" y2="372.9" stroke="#231f20" stroke-width="0.9"/>
<text x="300.9" y="377.5" font-size="6.4" text-anchor="end" fill="#222" textLength="11.2" lengthAdjust="spacingAndGlyphs" transform="rotate(-90 300.9 377.5)">18:2</text>
<circle cx="207" cy="251" r="4.15" fill="#f6dbdd" stroke="#4a4444" stroke-width="0.85"/>
<circle cx="243.6" cy="251" r="4.15" fill="#f2b8bd" stroke="#4a4444" stroke-width="0.85"/>
<circle cx="261.9" cy="251" r="1.95" fill="#f8f3f2" stroke="#555" stroke-width="0.85"/>
<circle cx="280.2" cy="251" r="4.15" fill="#f4c4c7" stroke="#4a4444" stroke-width="0.85"/>
<circle cx="298.5" cy="251" r="4.15" fill="#f2b8bd" stroke="#4a4444" stroke-width="0.85"/>
<circle cx="207" cy="259.74" r="4.15" fill="#f2b2b7" stroke="#4a4444" stroke-width="0.85"/>
<circle cx="261.9" cy="259.74" r="4.15" fill="#f5d0d2" stroke="#4a4444" stroke-width="0.85"/>
<circle cx="280.2" cy="259.74" r="4.15" fill="#ed9ca3" stroke="#4a4444" stroke-width="0.85"/>
<circle cx="298.5" cy="259.74" r="1.95" fill="#f7eded" stroke="#555" stroke-width="0.85"/>
<circle cx="207" cy="268.48" r="4.15" fill="#f3c2c5" stroke="#4a4444" stroke-width="0.85"/>
<circle cx="261.9" cy="268.48" r="1.95" fill="#f8f3f2" stroke="#555" stroke-width="0.85"/>
<circle cx="280.2" cy="268.48" r="4.15" fill="#f2b8bd" stroke="#4a4444" stroke-width="0.85"/>
<circle cx="298.5" cy="268.48" r="4.15" fill="#f2b8bd" stroke="#4a4444" stroke-width="0.85"/>
<circle cx="207" cy="277.22" r="4.15" fill="#f2b8bd" stroke="#4a4444" stroke-width="0.85"/>
<circle cx="261.9" cy="277.22" r="1.95" fill="#f7eded" stroke="#555" stroke-width="0.85"/>
<circle cx="280.2" cy="277.22" r="1.95" fill="#f7eded" stroke="#555" stroke-width="0.85"/>
<circle cx="207" cy="285.96" r="4.15" fill="#e88790" stroke="#4a4444" stroke-width="0.85"/>
<circle cx="243.6" cy="285.96" r="4.15" fill="#eea3a9" stroke="#4a4444" stroke-width="0.85"/>
<circle cx="261.9" cy="285.96" r="4.15" fill="#f4c4c7" stroke="#4a4444" stroke-width="0.85"/>
<circle cx="280.2" cy="285.96" r="4.15" fill="#eea3a9" stroke="#4a4444" stroke-width="0.85"/>
<circle cx="298.5" cy="285.96" r="4.15" fill="#f3bec2" stroke="#4a4444" stroke-width="0.85"/>
<circle cx="207" cy="294.7" r="4.15" fill="#f2b8bd" stroke="#4a4444" stroke-width="0.85"/>
<circle cx="261.9" cy="294.7" r="1.95" fill="#f8f3f2" stroke="#555" stroke-width="0.85"/>
<circle cx="280.2" cy="294.7" r="4.15" fill="#f4cacd" stroke="#4a4444" stroke-width="0.85"/>
<circle cx="298.5" cy="294.7" r="4.15" fill="#f5d6d7" stroke="#4a4444" stroke-width="0.85"/>
<circle cx="207" cy="303.44" r="4.15" fill="#72a9c4" stroke="#4a4444" stroke-width="0.85"/>
<circle cx="261.9" cy="303.44" r="4.15" fill="#72a9c4" stroke="#4a4444" stroke-width="0.85"/>
<circle cx="280.2" cy="303.44" r="1.95" fill="#f8f3f2" stroke="#555" stroke-width="0.85"/>
<circle cx="298.5" cy="303.44" r="1.95" fill="#f8f3f2" stroke="#555" stroke-width="0.85"/>
<circle cx="207" cy="312.18" r="4.15" fill="#98bfd5" stroke="#4a4444" stroke-width="0.85"/>
<circle cx="280.2" cy="312.18" r="4.15" fill="#d0dee6" stroke="#4a4444" stroke-width="0.85"/>
<circle cx="298.5" cy="312.18" r="4.15" fill="#f2b8bd" stroke="#4a4444" stroke-width="0.85"/>
<circle cx="207" cy="320.92" r="4.15" fill="#db4c5a" stroke="#4a4444" stroke-width="0.85"/>
<circle cx="261.9" cy="320.92" r="4.15" fill="#e88790" stroke="#4a4444" stroke-width="0.85"/>
<circle cx="207" cy="329.66" r="4.15" fill="#f4cacd" stroke="#4a4444" stroke-width="0.85"/>
<circle cx="225.3" cy="329.66" r="1.95" fill="#f8f3f2" stroke="#555" stroke-width="0.85"/>
<circle cx="261.9" cy="329.66" r="4.15" fill="#f7e7e7" stroke="#4a4444" stroke-width="0.85"/>
<circle cx="280.2" cy="329.66" r="4.15" fill="#efa7ad" stroke="#4a4444" stroke-width="0.85"/>
<circle cx="298.5" cy="329.66" r="4.15" fill="#f5d0d2" stroke="#4a4444" stroke-width="0.85"/>
<circle cx="207" cy="338.4" r="4.15" fill="#b6cfdf" stroke="#4a4444" stroke-width="0.85"/>
<circle cx="225.3" cy="338.4" r="1.95" fill="#f6e2e2" stroke="#555" stroke-width="0.85"/>
<circle cx="261.9" cy="338.4" r="4.15" fill="#93bcd2" stroke="#4a4444" stroke-width="0.85"/>
<circle cx="280.2" cy="338.4" r="1.95" fill="#f8f3f2" stroke="#555" stroke-width="0.85"/>
<circle cx="207" cy="347.14" r="4.15" fill="#b9d1e0" stroke="#4a4444" stroke-width="0.85"/>
<circle cx="225.3" cy="347.14" r="1.95" fill="#f0eff0" stroke="#555" stroke-width="0.85"/>
<circle cx="261.9" cy="347.14" r="4.15" fill="#0f6f98" stroke="#4a4444" stroke-width="0.85"/>
<circle cx="207" cy="355.88" r="1.95" fill="#f8f3f2" stroke="#555" stroke-width="0.85"/>
<circle cx="207" cy="364.62" r="1.95" fill="#f8f3f2" stroke="#555" stroke-width="0.85"/>
<defs><linearGradient id="gD" x1="0" x2="1" y1="0" y2="0"><stop offset="0" stop-color="#d8404f"/><stop offset="0.25" stop-color="#f2b3b8"/><stop offset="0.5" stop-color="#f8f3f2"/><stop offset="0.75" stop-color="#a2c5d9"/><stop offset="1" stop-color="#0f6f98"/></linearGradient></defs>
<rect x="239.4" y="396.2" width="48.6" height="9.6" fill="url(#gD)" stroke="none" stroke-width="0"/>
<text x="236" y="403" font-size="6.6" text-anchor="end" fill="#333">Log<tspan font-size="4.4" dy="1.5">2</tspan><tspan dy="-1.5">FC</tspan></text>
<text x="241.8" y="409.2" font-size="6.2" text-anchor="end" fill="#222" transform="rotate(-90 241.8 409.2)">1.5</text>
<text x="249.4" y="409.2" font-size="6.2" text-anchor="end" fill="#222" transform="rotate(-90 249.4 409.2)">1</text>
<text x="257.5" y="409.2" font-size="6.2" text-anchor="end" fill="#222" transform="rotate(-90 257.5 409.2)">0.5</text>
<text x="265.5" y="409.2" font-size="6.2" text-anchor="end" fill="#222" transform="rotate(-90 265.5 409.2)">0</text>
<text x="273.5" y="409.2" font-size="6.2" text-anchor="end" fill="#222" transform="rotate(-90 273.5 409.2)">−1</text>
<text x="281.4" y="409.2" font-size="6.2" text-anchor="end" fill="#222" transform="rotate(-90 281.4 409.2)">−0.5</text>
<text x="289.5" y="409.2" font-size="6.2" text-anchor="end" fill="#222" transform="rotate(-90 289.5 409.2)">−1.5</text>
<circle cx="210.9" cy="431.6" r="3.9" fill="none" stroke="#231f20" stroke-width="1.1"/>
<text x="218.3" y="433.9" font-size="6.4" text-anchor="start" fill="#222" textLength="32" lengthAdjust="spacingAndGlyphs">FDR &lt; 0.05</text>
<circle cx="261.9" cy="431.6" r="1.9" fill="none" stroke="#231f20" stroke-width="1"/>
<text x="266.3" y="433.9" font-size="6.4" text-anchor="start" fill="#222" textLength="32" lengthAdjust="spacingAndGlyphs">FDR &gt; 0.05</text>
<text x="325.2" y="230.4" font-size="11.5" text-anchor="start" font-weight="bold" fill="#000">E</text>
<text x="411" y="240.3" font-size="8.4" text-anchor="middle" font-style="italic" fill="#222">PEP</text>
<line x1="354.6" y1="246.1" x2="354.6" y2="371" stroke="#231f20" stroke-width="1.3"/>
<line x1="354" y1="370.4" x2="467.5" y2="370.4" stroke="#231f20" stroke-width="1.3"/>
<line x1="352.3" y1="252.2" x2="354.6" y2="252.2" stroke="#231f20" stroke-width="0.9"/>
<text x="349" y="254.4" font-size="6.4" text-anchor="end" fill="#222" textLength="12.8" lengthAdjust="spacingAndGlyphs">22:6</text>
<line x1="352.3" y1="264.4" x2="354.6" y2="264.4" stroke="#231f20" stroke-width="0.9"/>
<text x="349" y="266.6" font-size="6.4" text-anchor="end" fill="#222" textLength="12.8" lengthAdjust="spacingAndGlyphs">22:5</text>
<line x1="352.3" y1="276.6" x2="354.6" y2="276.6" stroke="#231f20" stroke-width="0.9"/>
<text x="349" y="278.8" font-size="6.4" text-anchor="end" fill="#222" textLength="12.8" lengthAdjust="spacingAndGlyphs">22:4</text>
<line x1="352.3" y1="288.8" x2="354.6" y2="288.8" stroke="#231f20" stroke-width="0.9"/>
<text x="349" y="291" font-size="6.4" text-anchor="end" fill="#222" textLength="12.8" lengthAdjust="spacingAndGlyphs">20:5</text>
<line x1="352.3" y1="301" x2="354.6" y2="301" stroke="#231f20" stroke-width="0.9"/>
<text x="349" y="303.2" font-size="6.4" text-anchor="end" fill="#222" textLength="12.8" lengthAdjust="spacingAndGlyphs">20:4</text>
<line x1="352.3" y1="313.2" x2="354.6" y2="313.2" stroke="#231f20" stroke-width="0.9"/>
<text x="349" y="315.4" font-size="6.4" text-anchor="end" fill="#222" textLength="12.8" lengthAdjust="spacingAndGlyphs">20:3</text>
<line x1="352.3" y1="325.4" x2="354.6" y2="325.4" stroke="#231f20" stroke-width="0.9"/>
<text x="349" y="327.6" font-size="6.4" text-anchor="end" fill="#222" textLength="12.8" lengthAdjust="spacingAndGlyphs">18:2</text>
<line x1="352.3" y1="337.6" x2="354.6" y2="337.6" stroke="#231f20" stroke-width="0.9"/>
<text x="349" y="339.8" font-size="6.4" text-anchor="end" fill="#222" textLength="12.8" lengthAdjust="spacingAndGlyphs">18:1</text>
<line x1="352.3" y1="349.8" x2="354.6" y2="349.8" stroke="#231f20" stroke-width="0.9"/>
<text x="349" y="352" font-size="6.4" text-anchor="end" fill="#222" textLength="12.8" lengthAdjust="spacingAndGlyphs">16:1</text>
<line x1="352.3" y1="362" x2="354.6" y2="362" stroke="#231f20" stroke-width="0.9"/>
<text x="349" y="364.2" font-size="6.4" text-anchor="end" fill="#222" textLength="12.8" lengthAdjust="spacingAndGlyphs">16:0</text>
<line x1="370.4" y1="370.4" x2="370.4" y2="372.8" stroke="#231f20" stroke-width="0.9"/>
<text x="372.8" y="377.4" font-size="6.4" text-anchor="end" fill="#222" textLength="11.6" lengthAdjust="spacingAndGlyphs" transform="rotate(-90 372.8 377.4)">16:0</text>
<line x1="397.5" y1="370.4" x2="397.5" y2="372.8" stroke="#231f20" stroke-width="0.9"/>
<text x="399.9" y="377.4" font-size="6.4" text-anchor="end" fill="#222" textLength="11.6" lengthAdjust="spacingAndGlyphs" transform="rotate(-90 399.9 377.4)">18:0</text>
<line x1="424.6" y1="370.4" x2="424.6" y2="372.8" stroke="#231f20" stroke-width="0.9"/>
<text x="427" y="377.4" font-size="6.4" text-anchor="end" fill="#222" textLength="11.6" lengthAdjust="spacingAndGlyphs" transform="rotate(-90 427 377.4)">18:1</text>
<line x1="451.7" y1="370.4" x2="451.7" y2="372.8" stroke="#231f20" stroke-width="0.9"/>
<text x="454.1" y="377.4" font-size="6.4" text-anchor="end" fill="#222" textLength="11.6" lengthAdjust="spacingAndGlyphs" transform="rotate(-90 454.1 377.4)">18:2</text>
<circle cx="370.4" cy="252.2" r="4.15" fill="#8db9d0" stroke="#4a4444" stroke-width="0.85"/>
<circle cx="397.5" cy="252.2" r="4.15" fill="#e5e9ec" stroke="#4a4444" stroke-width="0.85"/>
<circle cx="424.6" cy="252.2" r="4.15" fill="#e0e6eb" stroke="#4a4444" stroke-width="0.85"/>
<circle cx="451.7" cy="252.2" r="4.15" fill="#a9c9db" stroke="#4a4444" stroke-width="0.85"/>
<circle cx="370.4" cy="264.4" r="4.15" fill="#7dafc9" stroke="#4a4444" stroke-width="0.85"/>
<circle cx="397.5" cy="264.4" r="4.15" fill="#c9dae4" stroke="#4a4444" stroke-width="0.85"/>
<circle cx="424.6" cy="264.4" r="4.15" fill="#d5e0e8" stroke="#4a4444" stroke-width="0.85"/>
<circle cx="370.4" cy="276.6" r="4.15" fill="#78acc6" stroke="#4a4444" stroke-width="0.85"/>
<circle cx="397.5" cy="276.6" r="4.15" fill="#b1cddd" stroke="#4a4444" stroke-width="0.85"/>
<circle cx="424.6" cy="276.6" r="4.15" fill="#d5e0e8" stroke="#4a4444" stroke-width="0.85"/>
<circle cx="370.4" cy="288.8" r="4.15" fill="#8db9d0" stroke="#4a4444" stroke-width="0.85"/>
<circle cx="397.5" cy="288.8" r="4.15" fill="#c1d5e2" stroke="#4a4444" stroke-width="0.85"/>
<circle cx="424.6" cy="288.8" r="4.15" fill="#d5e0e8" stroke="#4a4444" stroke-width="0.85"/>
<circle cx="370.4" cy="301" r="4.15" fill="#8db9d0" stroke="#4a4444" stroke-width="0.85"/>
<circle cx="397.5" cy="301" r="4.15" fill="#b6cfdf" stroke="#4a4444" stroke-width="0.85"/>
<circle cx="424.6" cy="301" r="4.15" fill="#d0dee6" stroke="#4a4444" stroke-width="0.85"/>
<circle cx="451.7" cy="301" r="4.15" fill="#a6c7da" stroke="#4a4444" stroke-width="0.85"/>
<circle cx="370.4" cy="313.2" r="4.15" fill="#72a9c4" stroke="#4a4444" stroke-width="0.85"/>
<circle cx="397.5" cy="313.2" r="4.15" fill="#b1cddd" stroke="#4a4444" stroke-width="0.85"/>
<circle cx="424.6" cy="313.2" r="4.15" fill="#b6cfdf" stroke="#4a4444" stroke-width="0.85"/>
<circle cx="370.4" cy="325.4" r="4.15" fill="#93bcd2" stroke="#4a4444" stroke-width="0.85"/>
<circle cx="397.5" cy="325.4" r="4.15" fill="#b6cfdf" stroke="#4a4444" stroke-width="0.85"/>
<circle cx="424.6" cy="325.4" r="4.15" fill="#accadc" stroke="#4a4444" stroke-width="0.85"/>
<circle cx="451.7" cy="325.4" r="4.15" fill="#8db9d0" stroke="#4a4444" stroke-width="0.85"/>
<circle cx="370.4" cy="337.6" r="4.15" fill="#8db9d0" stroke="#4a4444" stroke-width="0.85"/>
<circle cx="397.5" cy="337.6" r="4.15" fill="#93bcd2" stroke="#4a4444" stroke-width="0.85"/>
<circle cx="424.6" cy="337.6" r="4.15" fill="#93bcd2" stroke="#4a4444" stroke-width="0.85"/>
<circle cx="424.6" cy="349.8" r="4.15" fill="#c1d5e2" stroke="#4a4444" stroke-width="0.85"/>
<circle cx="370.4" cy="362" r="1.95" fill="#f8f3f2" stroke="#555" stroke-width="0.85"/>
<circle cx="397.5" cy="362" r="4.15" fill="#85b4cc" stroke="#4a4444" stroke-width="0.85"/>
<circle cx="424.6" cy="362" r="4.15" fill="#0f6f98" stroke="#4a4444" stroke-width="0.85"/>
<defs><linearGradient id="gE" x1="0" x2="1" y1="0" y2="0"><stop offset="0" stop-color="#d8404f"/><stop offset="0.25" stop-color="#f2b3b8"/><stop offset="0.5" stop-color="#f8f3f2"/><stop offset="0.75" stop-color="#a2c5d9"/><stop offset="1" stop-color="#0f6f98"/></linearGradient></defs>
<rect x="399.4" y="396.2" width="48.1" height="9.3" fill="url(#gE)" stroke="none" stroke-width="0"/>
<text x="396" y="403" font-size="6.6" text-anchor="end" fill="#333">Log<tspan font-size="4.4" dy="1.5">2</tspan><tspan dy="-1.5">FC</tspan></text>
<text x="408" y="409.2" font-size="6.2" text-anchor="end" fill="#222" transform="rotate(-90 408 409.2)">2</text>
<text x="416.8" y="409.2" font-size="6.2" text-anchor="end" fill="#222" transform="rotate(-90 416.8 409.2)">1</text>
<text x="425.1" y="409.2" font-size="6.2" text-anchor="end" fill="#222" transform="rotate(-90 425.1 409.2)">0</text>
<text x="434.6" y="409.2" font-size="6.2" text-anchor="end" fill="#222" transform="rotate(-90 434.6 409.2)">−1</text>
<text x="443.7" y="409.2" font-size="6.2" text-anchor="end" fill="#222" transform="rotate(-90 443.7 409.2)">−2</text>
<circle cx="369.2" cy="431.7" r="3.9" fill="none" stroke="#231f20" stroke-width="1.1"/>
<text x="376.3" y="434" font-size="6.4" text-anchor="start" fill="#222" textLength="32" lengthAdjust="spacingAndGlyphs">FDR &lt; 0.05</text>
<circle cx="419.6" cy="431.7" r="1.9" fill="none" stroke="#231f20" stroke-width="1"/>
<text x="424.4" y="434" font-size="6.4" text-anchor="start" fill="#222" textLength="32" lengthAdjust="spacingAndGlyphs">FDR &gt; 0.05</text>
<text x="6.3" y="461.3" font-size="11.5" text-anchor="start" font-weight="bold" fill="#000">F</text>
<text x="79.6" y="462" font-size="6.6" font-weight="bold" text-anchor="middle" fill="#231f20">Log<tspan font-size="4.4" dy="1.5">2</tspan><tspan dy="-1.5">FC</tspan></text>
<text x="111.5" y="462" font-size="6.6" text-anchor="middle" font-weight="bold">Adj.</text>
<text x="111.6" y="470.2" font-size="6.6" font-weight="bold" text-anchor="middle" fill="#231f20"><tspan font-style="italic">P</tspan>-value</text>
<line x1="199.3" y1="471" x2="199.3" y2="643.5" stroke="#333" stroke-width="1.1"/>
<line x1="132.3" y1="643.2" x2="266.2" y2="643.2" stroke="#333" stroke-width="1.1"/>
<line x1="135.2" y1="643.2" x2="135.2" y2="646" stroke="#333" stroke-width="0.9"/>
<text x="135.2" y="655.3" font-size="6.4" text-anchor="middle" fill="#222">−2</text>
<line x1="167.3" y1="643.2" x2="167.3" y2="646" stroke="#333" stroke-width="0.9"/>
<text x="167.3" y="655.3" font-size="6.4" text-anchor="middle" fill="#222">−1</text>
<line x1="199.4" y1="643.2" x2="199.4" y2="646" stroke="#333" stroke-width="0.9"/>
<text x="199.4" y="655.3" font-size="6.4" text-anchor="middle" fill="#222">0</text>
<line x1="231.5" y1="643.2" x2="231.5" y2="646" stroke="#333" stroke-width="0.9"/>
<text x="231.5" y="655.3" font-size="6.4" text-anchor="middle" fill="#222">1</text>
<line x1="263.6" y1="643.2" x2="263.6" y2="646" stroke="#333" stroke-width="0.9"/>
<text x="263.6" y="655.3" font-size="6.4" text-anchor="middle" fill="#222">2</text>
<text x="17.2" y="483" font-size="6.5" text-anchor="start" fill="#222" textLength="39.3" lengthAdjust="spacingAndGlyphs">PC 14:0_20:4</text>
<text x="79.6" y="483" font-size="6.5" text-anchor="middle" fill="#222">0.75</text>
<text x="112" y="483" font-size="6.2" text-anchor="middle" fill="#222">&lt; .01</text>
<line x1="214.6" y1="480.7" x2="232" y2="480.7" stroke="#2a2a2a" stroke-width="1.2"/>
<circle cx="223.48" cy="480.7" r="2.4" fill="#c4206f" stroke="none" stroke-width="0"/>
<text x="17.2" y="493.45" font-size="6.5" text-anchor="start" fill="#222" textLength="39.3" lengthAdjust="spacingAndGlyphs">PC 16:0_20:4</text>
<text x="79.6" y="493.45" font-size="6.5" text-anchor="middle" fill="#222">0.65</text>
<text x="112" y="493.45" font-size="6.2" text-anchor="middle" fill="#222">&lt; .01</text>
<line x1="215" y1="491.15" x2="224.9" y2="491.15" stroke="#2a2a2a" stroke-width="1.2"/>
<circle cx="220.27" cy="491.15" r="2.4" fill="#c4206f" stroke="none" stroke-width="0"/>
<text x="17.2" y="503.9" font-size="6.5" text-anchor="start" fill="#222" textLength="39.3" lengthAdjust="spacingAndGlyphs">PC 17:0_20:4</text>
<text x="79.6" y="503.9" font-size="6.5" text-anchor="middle" fill="#222">0.65</text>
<text x="112" y="503.9" font-size="6.2" text-anchor="middle" fill="#222">.03</text>
<line x1="206" y1="501.6" x2="234.6" y2="501.6" stroke="#2a2a2a" stroke-width="1.2"/>
<circle cx="220.27" cy="501.6" r="2.4" fill="#c4206f" stroke="none" stroke-width="0"/>
<text x="17.2" y="514.35" font-size="6.5" text-anchor="start" fill="#222" textLength="39.3" lengthAdjust="spacingAndGlyphs">PC 18:0_20:4</text>
<text x="79.6" y="514.35" font-size="6.5" text-anchor="middle" fill="#222">0.17</text>
<text x="112" y="514.35" font-size="6.2" text-anchor="middle" fill="#222">.09</text>
<line x1="199.2" y1="512.05" x2="210.5" y2="512.05" stroke="#2a2a2a" stroke-width="1.2"/>
<circle cx="204.86" cy="512.05" r="2.4" fill="#c4206f" stroke="none" stroke-width="0"/>
<text x="17.2" y="524.8" font-size="6.5" text-anchor="start" fill="#222" textLength="39.3" lengthAdjust="spacingAndGlyphs">PC 18:1_20:4</text>
<text x="79.6" y="524.8" font-size="6.5" text-anchor="middle" fill="#222">0.86</text>
<text x="112" y="524.8" font-size="6.2" text-anchor="middle" fill="#222">&lt; .01</text>
<line x1="220.3" y1="522.5" x2="233.1" y2="522.5" stroke="#2a2a2a" stroke-width="1.2"/>
<circle cx="227.01" cy="522.5" r="2.4" fill="#c4206f" stroke="none" stroke-width="0"/>
<text x="17.2" y="535.25" font-size="6.5" text-anchor="start" fill="#222" textLength="39.3" lengthAdjust="spacingAndGlyphs">PC 18:2_20:4</text>
<text x="79.6" y="535.25" font-size="6.5" text-anchor="middle" fill="#222">0.67</text>
<text x="112" y="535.25" font-size="6.2" text-anchor="middle" fill="#222">&lt; .01</text>
<line x1="214.6" y1="532.95" x2="227.7" y2="532.95" stroke="#2a2a2a" stroke-width="1.2"/>
<circle cx="220.91" cy="532.95" r="2.4" fill="#c4206f" stroke="none" stroke-width="0"/>
<text x="17.2" y="545.7" font-size="6.5" text-anchor="start" fill="#222" textLength="39.3" lengthAdjust="spacingAndGlyphs">PC 20:0_20:4</text>
<text x="79.6" y="545.7" font-size="6.5" text-anchor="middle" fill="#222">0.09</text>
<text x="112" y="545.7" font-size="6.2" text-anchor="middle" fill="#222">.65</text>
<line x1="193.1" y1="543.4" x2="211.1" y2="543.4" stroke="#2a2a2a" stroke-width="1.2"/>
<circle cx="202.29" cy="543.4" r="2.4" fill="#c4206f" stroke="none" stroke-width="0"/>
<text x="17.2" y="556.15" font-size="6.5" text-anchor="start" fill="#222" textLength="39.3" lengthAdjust="spacingAndGlyphs">PE 16:0_20:4</text>
<text x="79.6" y="556.15" font-size="6.5" text-anchor="middle" fill="#222">1.16</text>
<text x="112" y="556.15" font-size="6.2" text-anchor="middle" fill="#222">&lt; .01</text>
<line x1="230.5" y1="553.85" x2="243.1" y2="553.85" stroke="#2a2a2a" stroke-width="1.2"/>
<circle cx="236.64" cy="553.85" r="2.4" fill="#c4206f" stroke="none" stroke-width="0"/>
<text x="17.2" y="566.6" font-size="6.5" text-anchor="start" fill="#222" textLength="39.3" lengthAdjust="spacingAndGlyphs">PE 17:0_20:4</text>
<text x="79.6" y="566.6" font-size="6.5" text-anchor="middle" fill="#222">0.9</text>
<text x="112" y="566.6" font-size="6.2" text-anchor="middle" fill="#222">&lt; .01</text>
<line x1="218.2" y1="564.3" x2="238.5" y2="564.3" stroke="#2a2a2a" stroke-width="1.2"/>
<circle cx="228.29" cy="564.3" r="2.4" fill="#c4206f" stroke="none" stroke-width="0"/>
<text x="17.2" y="577.05" font-size="6.5" text-anchor="start" fill="#222" textLength="39.3" lengthAdjust="spacingAndGlyphs">PE 18:0_20:4</text>
<text x="79.6" y="577.05" font-size="6.5" text-anchor="middle" fill="#222">0.54</text>
<text x="112" y="577.05" font-size="6.2" text-anchor="middle" fill="#222">&lt; .01</text>
<line x1="211.2" y1="574.75" x2="222.3" y2="574.75" stroke="#2a2a2a" stroke-width="1.2"/>
<circle cx="216.73" cy="574.75" r="2.4" fill="#c4206f" stroke="none" stroke-width="0"/>
<text x="17.2" y="587.5" font-size="6.5" text-anchor="start" fill="#222" textLength="39.3" lengthAdjust="spacingAndGlyphs">PE 18:1_20:4</text>
<text x="79.6" y="587.5" font-size="6.5" text-anchor="middle" fill="#222">0.9</text>
<text x="112" y="587.5" font-size="6.2" text-anchor="middle" fill="#222">&lt; .01</text>
<line x1="220.8" y1="585.2" x2="235.7" y2="585.2" stroke="#2a2a2a" stroke-width="1.2"/>
<circle cx="228.29" cy="585.2" r="2.4" fill="#c4206f" stroke="none" stroke-width="0"/>
<text x="17.2" y="597.95" font-size="6.5" text-anchor="start" fill="#222" textLength="39.3" lengthAdjust="spacingAndGlyphs">PE 18:2_20:4</text>
<text x="79.6" y="597.95" font-size="6.5" text-anchor="middle" fill="#222">0.61</text>
<text x="112" y="597.95" font-size="6.2" text-anchor="middle" fill="#222">&lt; .01</text>
<line x1="209.5" y1="595.65" x2="228.9" y2="595.65" stroke="#2a2a2a" stroke-width="1.2"/>
<circle cx="218.98" cy="595.65" r="2.4" fill="#c4206f" stroke="none" stroke-width="0"/>
<text x="17.2" y="608.4" font-size="6.5" text-anchor="start" fill="#222" textLength="42.3" lengthAdjust="spacingAndGlyphs">PEP 16:0/20:4</text>
<text x="79.6" y="608.4" font-size="6.5" text-anchor="middle" fill="#222">−1.50</text>
<text x="112" y="608.4" font-size="6.2" text-anchor="middle" fill="#222">&lt; .01</text>
<line x1="144.2" y1="606.1" x2="158.5" y2="606.1" stroke="#2a2a2a" stroke-width="1.2"/>
<circle cx="151.25" cy="606.1" r="2.4" fill="#c4206f" stroke="none" stroke-width="0"/>
<text x="17.2" y="618.85" font-size="6.5" text-anchor="start" fill="#222" textLength="42.3" lengthAdjust="spacingAndGlyphs">PEP 18:0/20:4</text>
<text x="79.6" y="618.85" font-size="6.5" text-anchor="middle" fill="#222">−1.00</text>
<text x="112" y="618.85" font-size="6.2" text-anchor="middle" fill="#222">&lt; .01</text>
<line x1="161.5" y1="616.55" x2="173.4" y2="616.55" stroke="#2a2a2a" stroke-width="1.2"/>
<circle cx="167.3" cy="616.55" r="2.4" fill="#c4206f" stroke="none" stroke-width="0"/>
<text x="17.2" y="629.3" font-size="6.5" text-anchor="start" fill="#222" textLength="42.3" lengthAdjust="spacingAndGlyphs">PEP 18:1/20:4</text>
<text x="79.6" y="629.3" font-size="6.5" text-anchor="middle" fill="#222">−0.72</text>
<text x="112" y="629.3" font-size="6.2" text-anchor="middle" fill="#222">&lt; .01</text>
<line x1="169.2" y1="627" x2="183.8" y2="627" stroke="#2a2a2a" stroke-width="1.2"/>
<circle cx="176.29" cy="627" r="2.4" fill="#c4206f" stroke="none" stroke-width="0"/>
<text x="17.2" y="639.75" font-size="6.5" text-anchor="start" fill="#222" textLength="42.3" lengthAdjust="spacingAndGlyphs">PEP 18:2/20:4</text>
<text x="79.6" y="639.75" font-size="6.5" text-anchor="middle" fill="#222">−1.09</text>
<text x="112" y="639.75" font-size="6.2" text-anchor="middle" fill="#222">&lt; .01</text>
<line x1="156.9" y1="637.45" x2="171.8" y2="637.45" stroke="#2a2a2a" stroke-width="1.2"/>
<circle cx="164.41" cy="637.45" r="2.4" fill="#c4206f" stroke="none" stroke-width="0"/>
<text x="282.3" y="461.3" font-size="11.5" text-anchor="start" font-weight="bold" fill="#000">G</text>
<line x1="330.4" y1="466.1" x2="341.9" y2="466.1" stroke="#999" stroke-width="1"/>
<path d="M336.2 464.2 L338.1 466.1 L336.2 468 L334.3 466.1 Z" fill="#8c8c8c"/>
<text x="346.6" y="468.4" font-size="6.6" text-anchor="start" fill="#222" textLength="16" lengthAdjust="spacingAndGlyphs">ACC1</text>
<text x="363" y="464.8" font-size="4" text-anchor="start" fill="#555" textLength="9.6" lengthAdjust="spacingAndGlyphs" style="stroke:none">f‌l/f‌l</text>
<line x1="381.9" y1="466.1" x2="393.9" y2="466.1" stroke="#f2b05e" stroke-width="1"/>
<path d="M387.9 464.4 L389.6 466.1 L387.9 467.8 L386.2 466.1 Z" fill="#f5c27e"/>
<text x="397.4" y="468.4" font-size="6.6" text-anchor="start" fill="#222" textLength="31.2" lengthAdjust="spacingAndGlyphs">ACC1 pKO</text>
<line x1="384" y1="565.2" x2="384" y2="524.2" stroke="#56708c" stroke-width="0.85"/>
<line x1="384" y1="565.2" x2="399.69" y2="527.32" stroke="#56708c" stroke-width="0.85"/>
<line x1="384" y1="565.2" x2="412.99" y2="536.21" stroke="#56708c" stroke-width="0.85"/>
<line x1="384" y1="565.2" x2="421.88" y2="549.51" stroke="#56708c" stroke-width="0.85"/>
<line x1="384" y1="565.2" x2="425" y2="565.2" stroke="#56708c" stroke-width="0.85"/>
<line x1="384" y1="565.2" x2="421.88" y2="580.89" stroke="#56708c" stroke-width="0.85"/>
<line x1="384" y1="565.2" x2="412.99" y2="594.19" stroke="#56708c" stroke-width="0.85"/>
<line x1="384" y1="565.2" x2="399.69" y2="603.08" stroke="#56708c" stroke-width="0.85"/>
<line x1="384" y1="565.2" x2="384" y2="606.2" stroke="#56708c" stroke-width="0.85"/>
<line x1="384" y1="565.2" x2="368.31" y2="603.08" stroke="#56708c" stroke-width="0.85"/>
<line x1="384" y1="565.2" x2="355.01" y2="594.19" stroke="#56708c" stroke-width="0.85"/>
<line x1="384" y1="565.2" x2="346.12" y2="580.89" stroke="#56708c" stroke-width="0.85"/>
<line x1="384" y1="565.2" x2="343" y2="565.2" stroke="#56708c" stroke-width="0.85"/>
<line x1="384" y1="565.2" x2="346.12" y2="549.51" stroke="#56708c" stroke-width="0.85"/>
<line x1="384" y1="565.2" x2="355.01" y2="536.21" stroke="#56708c" stroke-width="0.85"/>
<line x1="384" y1="565.2" x2="368.31" y2="527.32" stroke="#56708c" stroke-width="0.85"/>
<circle cx="384" cy="565.2" r="23" fill="none" stroke="#a9cdea" stroke-width="0.8" stroke-dasharray="0.9,3"/>
<polygon points="384,562.74 385.1,562.55 386.9,562.3 388.92,563.16 391.38,565.2 392.33,568.65 393.28,574.48 391.06,582.25 384,591.44 372.7,592.47 360.81,588.39 352.56,578.22 349.97,565.2 349.53,550.92 357.04,538.24 368.31,527.32" fill="#c3c8ce" fill-opacity="0.7" stroke="#5d6b7a" stroke-width="0.9"/>
<polygon points="384,561.1 385.88,560.65 388.35,560.85 390.82,562.38 393.84,565.2 396.12,570.22 399.08,580.28 391.37,583 384,596.36 370.04,598.91 363.13,586.07 353.32,577.91 352.43,565.2 349.53,550.92 355.59,536.79 371.45,534.9" fill="#f5cb94" fill-opacity="0.68" stroke="#f0aa50" stroke-width="1.0"/>
<circle cx="384" cy="565.2" r="41" fill="none" stroke="#6a6a6a" stroke-width="0.9" stroke-dasharray="2.2,1.8"/>
<text x="386.3" y="519.6" font-size="6.8" text-anchor="start" fill="#222" textLength="39.6" lengthAdjust="spacingAndGlyphs" transform="rotate(-90 386.3 519.6)">PC 17:0_20:4</text>
<text x="403.58" y="523.95" font-size="6.8" text-anchor="start" fill="#222" textLength="39.6" lengthAdjust="spacingAndGlyphs" transform="rotate(-67.5 403.58 523.95)">PC 20:0_20:4</text>
<text x="417.87" y="534.58" font-size="6.8" text-anchor="start" fill="#222" textLength="39.6" lengthAdjust="spacingAndGlyphs" transform="rotate(-45 417.87 534.58)">PC 14:0_20:4</text>
<text x="427.01" y="549.87" font-size="6.8" text-anchor="start" fill="#222" textLength="39.6" lengthAdjust="spacingAndGlyphs" transform="rotate(-22.5 427.01 549.87)">PE 17:0_20:4</text>
<text x="429.6" y="567.5" font-size="6.8" text-anchor="start" fill="#222" textLength="39.6" lengthAdjust="spacingAndGlyphs" transform="rotate(0 429.6 567.5)">PE 18:2_20:4</text>
<text x="425.25" y="584.78" font-size="6.8" text-anchor="start" fill="#222" textLength="39.6" lengthAdjust="spacingAndGlyphs" transform="rotate(22.5 425.25 584.78)">PC 18:2_20:4</text>
<text x="414.62" y="599.07" font-size="6.8" text-anchor="start" fill="#222" textLength="39.6" lengthAdjust="spacingAndGlyphs" transform="rotate(45 414.62 599.07)">PC 18:1_20:4</text>
<text x="399.33" y="608.21" font-size="6.8" text-anchor="start" fill="#222" textLength="42" lengthAdjust="spacingAndGlyphs" transform="rotate(67.5 399.33 608.21)">PEP 18:2/20:4</text>
<text x="386.3" y="612.8" font-size="6.8" text-anchor="end" fill="#222" textLength="39.6" lengthAdjust="spacingAndGlyphs" transform="rotate(-90 386.3 612.8)">PE 18:1_20:4</text>
<text x="367.91" y="610.06" font-size="6.8" text-anchor="end" fill="#222" textLength="39.6" lengthAdjust="spacingAndGlyphs" transform="rotate(-67.5 367.91 610.06)">PE 18:0_20:4</text>
<text x="351.97" y="600.48" font-size="6.8" text-anchor="end" fill="#222" textLength="42" lengthAdjust="spacingAndGlyphs" transform="rotate(-45 351.97 600.48)">PEP 18:1/20:4</text>
<text x="340.9" y="585.54" font-size="6.8" text-anchor="end" fill="#222" textLength="39.6" lengthAdjust="spacingAndGlyphs" transform="rotate(-22.5 340.9 585.54)">PC 18:0_20:4</text>
<text x="336.4" y="567.5" font-size="6.8" text-anchor="end" fill="#222" textLength="42" lengthAdjust="spacingAndGlyphs" transform="rotate(0 336.4 567.5)">PEP 18:0/20:4</text>
<text x="339.14" y="549.11" font-size="6.8" text-anchor="end" fill="#222" textLength="39.6" lengthAdjust="spacingAndGlyphs" transform="rotate(22.5 339.14 549.11)">PC 16:0_20:4</text>
<text x="348.72" y="533.17" font-size="6.8" text-anchor="end" fill="#222" textLength="39.6" lengthAdjust="spacingAndGlyphs" transform="rotate(45 348.72 533.17)">PE 16:0_20:4</text>
<text x="363.66" y="522.1" font-size="6.8" text-anchor="end" fill="#222" textLength="42" lengthAdjust="spacingAndGlyphs" transform="rotate(67.5 363.66 522.1)">PEP 16:0/20:4</text>
<rect x="0.5" y="0.5" width="519" height="662" fill="none" stroke="#505050" stroke-width="1.2"/>
</svg></body></html>
